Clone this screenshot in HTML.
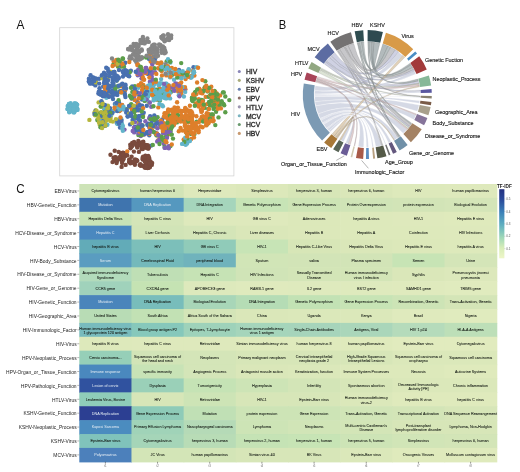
<!DOCTYPE html>
<html><head><meta charset="utf-8"><style>
html,body{margin:0;padding:0;background:#fff;}
body{width:520px;height:472px;overflow:hidden;position:relative;font-family:"Liberation Sans",sans-serif;}
svg{position:absolute;left:0;top:0;will-change:transform;}

.hm text{font-size:3.75px;text-anchor:middle;font-family:"Liberation Sans",sans-serif;stroke-width:0.06px;}
.hm text.yl{font-size:4.9px;text-anchor:end;fill:#1e1e1e;stroke:none;}
.hm text.xt{font-size:2.8px;fill:#666;}
.hm text.cbt{font-size:3px;text-anchor:start;fill:#555;}
.hm text.tfidf{font-size:4.7px;text-anchor:start;font-weight:bold;fill:#222;}
.lg{font-size:6.8px;fill:#262626;stroke:#262626;stroke-width:0.3px;font-family:"Liberation Sans",sans-serif;}
.cl{font-size:5.45px;fill:#1a1a1a;stroke:#1a1a1a;stroke-width:0.14px;font-family:"Liberation Sans",sans-serif;}
.pl{font-size:13.2px;fill:#111;font-family:"Liberation Sans",sans-serif;}
</style></head><body>
<svg width="520" height="472" viewBox="0 0 520 472">
<defs><filter id="bl" x="-5%" y="-5%" width="110%" height="110%"><feGaussianBlur stdDeviation="0.35"/></filter></defs>
<text class="pl" transform="translate(16.4,29.2) scale(0.9,1)">A</text>
<text class="pl" transform="translate(278.8,29.2) scale(0.85,1)">B</text>
<text class="pl" transform="translate(16.3,193.1) scale(0.88,1)">C</text>
<rect x="59.7" y="27.7" width="174.2" height="148.2" fill="none" stroke="#d4d4d4" stroke-width="0.8"/>
<g filter="url(#bl)"><circle cx="141.0" cy="67.3" r="2.2" fill="#5b9e4a"/><circle cx="170.1" cy="91.5" r="2.2" fill="#62b4ca"/><circle cx="140.8" cy="136.1" r="2.2" fill="#7f64b4"/><circle cx="173.2" cy="117.1" r="2.2" fill="#de7f2c"/><circle cx="102.8" cy="115.1" r="2.2" fill="#5b9e4a"/><circle cx="114.4" cy="87.4" r="2.2" fill="#62b4ca"/><circle cx="180.3" cy="73.7" r="2.2" fill="#62b4ca"/><circle cx="72.1" cy="106.2" r="2.2" fill="#62b4ca"/><circle cx="204.8" cy="88.4" r="2.2" fill="#5b9e4a"/><circle cx="99.2" cy="115.7" r="2.2" fill="#b6b63c"/><circle cx="131.0" cy="162.3" r="2.2" fill="#7a4b3d"/><circle cx="211.7" cy="105.3" r="2.2" fill="#5b9e4a"/><circle cx="160.2" cy="63.4" r="2.2" fill="#5b9e4a"/><circle cx="99.7" cy="119.4" r="2.2" fill="#b6b63c"/><circle cx="105.3" cy="79.5" r="2.2" fill="#4870b0"/><circle cx="105.6" cy="116.1" r="2.2" fill="#5b9e4a"/><circle cx="210.9" cy="103.0" r="2.2" fill="#5b9e4a"/><circle cx="193.2" cy="123.1" r="2.2" fill="#de7f2c"/><circle cx="213.8" cy="96.4" r="2.2" fill="#5b9e4a"/><circle cx="143.5" cy="39.6" r="2.2" fill="#868686"/><circle cx="95.3" cy="79.2" r="2.2" fill="#4870b0"/><circle cx="165.4" cy="90.3" r="2.2" fill="#62b4ca"/><circle cx="154.4" cy="125.6" r="2.2" fill="#de7f2c"/><circle cx="106.4" cy="77.8" r="2.2" fill="#4870b0"/><circle cx="125.1" cy="90.4" r="2.2" fill="#de7f2c"/><circle cx="162.4" cy="94.0" r="2.2" fill="#5b9e4a"/><circle cx="133.5" cy="110.7" r="2.2" fill="#de7f2c"/><circle cx="216.2" cy="102.5" r="2.2" fill="#5b9e4a"/><circle cx="120.9" cy="105.5" r="2.2" fill="#4870b0"/><circle cx="139.3" cy="143.8" r="2.2" fill="#7a4b3d"/><circle cx="166.4" cy="94.2" r="2.2" fill="#62b4ca"/><circle cx="141.8" cy="84.5" r="2.2" fill="#de7f2c"/><circle cx="163.4" cy="89.3" r="2.2" fill="#62b4ca"/><circle cx="162.9" cy="106.3" r="2.2" fill="#62b4ca"/><circle cx="190.8" cy="122.0" r="2.2" fill="#de7f2c"/><circle cx="142.9" cy="37.0" r="2.2" fill="#868686"/><circle cx="106.4" cy="108.6" r="2.2" fill="#b6b63c"/><circle cx="184.3" cy="143.8" r="2.2" fill="#5b9e4a"/><circle cx="207.3" cy="91.1" r="2.2" fill="#5b9e4a"/><circle cx="155.3" cy="96.1" r="2.2" fill="#62b4ca"/><circle cx="185.6" cy="79.1" r="2.2" fill="#de7f2c"/><circle cx="157.3" cy="63.0" r="2.2" fill="#de7f2c"/><circle cx="139.8" cy="51.2" r="2.2" fill="#868686"/><circle cx="137.2" cy="106.0" r="2.2" fill="#de7f2c"/><circle cx="170.7" cy="134.2" r="2.2" fill="#5b9e4a"/><circle cx="157.3" cy="121.5" r="2.2" fill="#4870b0"/><circle cx="166.2" cy="126.8" r="2.2" fill="#de7f2c"/><circle cx="187.9" cy="130.9" r="2.2" fill="#de7f2c"/><circle cx="181.5" cy="111.1" r="2.2" fill="#de7f2c"/><circle cx="215.1" cy="91.6" r="2.2" fill="#de7f2c"/><circle cx="105.7" cy="124.9" r="2.2" fill="#b6b63c"/><circle cx="129.2" cy="107.0" r="2.2" fill="#b6b63c"/><circle cx="74.9" cy="103.4" r="2.2" fill="#62b4ca"/><circle cx="146.3" cy="98.6" r="2.2" fill="#5b9e4a"/><circle cx="190.5" cy="76.3" r="2.2" fill="#62b4ca"/><circle cx="191.2" cy="138.9" r="2.2" fill="#de7f2c"/><circle cx="192.6" cy="97.7" r="2.2" fill="#5b9e4a"/><circle cx="161.1" cy="79.1" r="2.2" fill="#62b4ca"/><circle cx="138.7" cy="122.8" r="2.2" fill="#b6b63c"/><circle cx="121.4" cy="119.2" r="2.2" fill="#62b4ca"/><circle cx="166.6" cy="61.4" r="2.2" fill="#5b9e4a"/><circle cx="114.4" cy="72.0" r="2.2" fill="#4870b0"/><circle cx="120.9" cy="153.5" r="2.2" fill="#7a4b3d"/><circle cx="140.1" cy="120.8" r="2.2" fill="#4870b0"/><circle cx="191.9" cy="125.8" r="2.2" fill="#de7f2c"/><circle cx="126.1" cy="109.2" r="2.2" fill="#5b9e4a"/><circle cx="169.0" cy="69.2" r="2.2" fill="#de7f2c"/><circle cx="149.3" cy="127.2" r="2.2" fill="#7f64b4"/><circle cx="98.7" cy="121.6" r="2.2" fill="#b6b63c"/><circle cx="186.5" cy="132.8" r="2.2" fill="#de7f2c"/><circle cx="157.6" cy="117.2" r="2.2" fill="#5b9e4a"/><circle cx="151.3" cy="129.8" r="2.2" fill="#7f64b4"/><circle cx="118.8" cy="77.8" r="2.2" fill="#4870b0"/><circle cx="163.2" cy="131.4" r="2.2" fill="#5b9e4a"/><circle cx="137.4" cy="55.9" r="2.2" fill="#868686"/><circle cx="160.3" cy="69.8" r="2.2" fill="#868686"/><circle cx="134.4" cy="46.1" r="2.2" fill="#868686"/><circle cx="167.3" cy="129.8" r="2.2" fill="#de7f2c"/><circle cx="161.7" cy="70.5" r="2.2" fill="#868686"/><circle cx="139.3" cy="109.4" r="2.2" fill="#4870b0"/><circle cx="113.7" cy="72.3" r="2.2" fill="#4870b0"/><circle cx="148.2" cy="125.1" r="2.2" fill="#4870b0"/><circle cx="147.8" cy="92.2" r="2.2" fill="#de7f2c"/><circle cx="189.2" cy="140.7" r="2.2" fill="#62b4ca"/><circle cx="154.5" cy="126.5" r="2.2" fill="#5b9e4a"/><circle cx="148.8" cy="161.2" r="2.2" fill="#7a4b3d"/><circle cx="155.1" cy="89.4" r="2.2" fill="#62b4ca"/><circle cx="143.0" cy="115.9" r="2.2" fill="#de7f2c"/><circle cx="146.7" cy="73.1" r="2.2" fill="#7f64b4"/><circle cx="178.2" cy="118.7" r="2.2" fill="#de7f2c"/><circle cx="185.3" cy="109.1" r="2.2" fill="#de7f2c"/><circle cx="142.1" cy="57.8" r="2.2" fill="#5b9e4a"/><circle cx="191.7" cy="117.5" r="2.2" fill="#de7f2c"/><circle cx="113.9" cy="86.2" r="2.2" fill="#4870b0"/><circle cx="172.2" cy="122.2" r="2.2" fill="#de7f2c"/><circle cx="160.5" cy="45.2" r="2.2" fill="#868686"/><circle cx="148.6" cy="50.0" r="2.2" fill="#868686"/><circle cx="170.5" cy="146.0" r="2.2" fill="#5b9e4a"/><circle cx="158.3" cy="107.4" r="2.2" fill="#de7f2c"/><circle cx="105.5" cy="92.4" r="2.2" fill="#4870b0"/><circle cx="101.7" cy="120.6" r="2.2" fill="#b6b63c"/><circle cx="168.5" cy="39.7" r="2.2" fill="#868686"/><circle cx="110.1" cy="86.0" r="2.2" fill="#4870b0"/><circle cx="148.4" cy="167.9" r="2.2" fill="#7a4b3d"/><circle cx="131.7" cy="58.2" r="2.2" fill="#868686"/><circle cx="121.9" cy="123.4" r="2.2" fill="#62b4ca"/><circle cx="152.2" cy="45.8" r="2.2" fill="#868686"/><circle cx="172.3" cy="74.5" r="2.2" fill="#62b4ca"/><circle cx="152.0" cy="130.1" r="2.2" fill="#de7f2c"/><circle cx="143.7" cy="112.8" r="2.2" fill="#4870b0"/><circle cx="179.8" cy="77.5" r="2.2" fill="#62b4ca"/><circle cx="158.0" cy="55.8" r="2.2" fill="#868686"/><circle cx="120.5" cy="110.0" r="2.2" fill="#de7f2c"/><circle cx="160.8" cy="96.8" r="2.2" fill="#62b4ca"/><circle cx="142.7" cy="159.5" r="2.2" fill="#7a4b3d"/><circle cx="201.7" cy="117.0" r="2.2" fill="#de7f2c"/><circle cx="151.9" cy="62.0" r="2.2" fill="#868686"/><circle cx="169.1" cy="125.2" r="2.2" fill="#7f64b4"/><circle cx="171.6" cy="75.2" r="2.2" fill="#5b9e4a"/><circle cx="97.3" cy="120.0" r="2.2" fill="#5b9e4a"/><circle cx="189.9" cy="129.4" r="2.2" fill="#de7f2c"/><circle cx="132.2" cy="106.5" r="2.2" fill="#de7f2c"/><circle cx="139.7" cy="165.1" r="2.2" fill="#7a4b3d"/><circle cx="187.3" cy="116.5" r="2.2" fill="#de7f2c"/><circle cx="140.3" cy="73.6" r="2.2" fill="#4870b0"/><circle cx="68.8" cy="106.3" r="2.2" fill="#62b4ca"/><circle cx="72.7" cy="108.7" r="2.2" fill="#62b4ca"/><circle cx="110.9" cy="110.8" r="2.2" fill="#62b4ca"/><circle cx="132.3" cy="91.9" r="2.2" fill="#5b9e4a"/><circle cx="113.7" cy="61.4" r="2.2" fill="#de7f2c"/><circle cx="137.8" cy="75.3" r="2.2" fill="#7f64b4"/><circle cx="153.4" cy="97.0" r="2.2" fill="#62b4ca"/><circle cx="122.0" cy="105.2" r="2.2" fill="#4870b0"/><circle cx="147.8" cy="93.5" r="2.2" fill="#4870b0"/><circle cx="162.2" cy="119.5" r="2.2" fill="#4870b0"/><circle cx="144.1" cy="98.0" r="2.2" fill="#de7f2c"/><circle cx="153.0" cy="86.2" r="2.2" fill="#62b4ca"/><circle cx="137.4" cy="73.7" r="2.2" fill="#de7f2c"/><circle cx="114.8" cy="110.5" r="2.2" fill="#4870b0"/><circle cx="161.6" cy="63.6" r="2.2" fill="#62b4ca"/><circle cx="130.1" cy="124.4" r="2.2" fill="#4870b0"/><circle cx="198.8" cy="99.3" r="2.2" fill="#de7f2c"/><circle cx="145.9" cy="147.7" r="2.2" fill="#7a4b3d"/><circle cx="154.5" cy="116.5" r="2.2" fill="#7f64b4"/><circle cx="136.9" cy="101.5" r="2.2" fill="#4870b0"/><circle cx="149.9" cy="92.4" r="2.2" fill="#5b9e4a"/><circle cx="138.4" cy="135.0" r="2.2" fill="#5b9e4a"/><circle cx="114.8" cy="79.4" r="2.2" fill="#4870b0"/><circle cx="159.6" cy="100.1" r="2.2" fill="#62b4ca"/><circle cx="189.9" cy="141.0" r="2.2" fill="#62b4ca"/><circle cx="195.1" cy="94.8" r="2.2" fill="#5b9e4a"/><circle cx="150.1" cy="116.2" r="2.2" fill="#4870b0"/><circle cx="165.7" cy="64.1" r="2.2" fill="#868686"/><circle cx="147.3" cy="124.8" r="2.2" fill="#4870b0"/><circle cx="205.3" cy="81.3" r="2.2" fill="#5b9e4a"/><circle cx="151.2" cy="106.8" r="2.2" fill="#7f64b4"/><circle cx="138.4" cy="46.5" r="2.2" fill="#868686"/><circle cx="180.9" cy="111.4" r="2.2" fill="#de7f2c"/><circle cx="142.7" cy="90.7" r="2.2" fill="#5b9e4a"/><circle cx="150.7" cy="61.5" r="2.2" fill="#de7f2c"/><circle cx="205.7" cy="96.9" r="2.2" fill="#de7f2c"/><circle cx="186.2" cy="109.4" r="2.2" fill="#de7f2c"/><circle cx="106.2" cy="81.8" r="2.2" fill="#4870b0"/><circle cx="119.3" cy="91.6" r="2.2" fill="#5b9e4a"/><circle cx="204.6" cy="88.0" r="2.2" fill="#de7f2c"/><circle cx="180.5" cy="76.6" r="2.2" fill="#de7f2c"/><circle cx="132.2" cy="143.0" r="2.2" fill="#7a4b3d"/><circle cx="177.9" cy="107.6" r="2.2" fill="#de7f2c"/><circle cx="69.5" cy="104.1" r="2.2" fill="#62b4ca"/><circle cx="132.9" cy="54.6" r="2.2" fill="#868686"/><circle cx="133.9" cy="95.5" r="2.2" fill="#de7f2c"/><circle cx="150.1" cy="162.9" r="2.2" fill="#7a4b3d"/><circle cx="177.4" cy="87.5" r="2.2" fill="#de7f2c"/><circle cx="69.2" cy="112.2" r="2.2" fill="#62b4ca"/><circle cx="167.6" cy="118.4" r="2.2" fill="#5b9e4a"/><circle cx="203.5" cy="117.2" r="2.2" fill="#5b9e4a"/><circle cx="109.3" cy="109.7" r="2.2" fill="#4870b0"/><circle cx="137.2" cy="145.7" r="2.2" fill="#7a4b3d"/><circle cx="191.4" cy="115.7" r="2.2" fill="#de7f2c"/><circle cx="139.3" cy="95.5" r="2.2" fill="#4870b0"/><circle cx="152.0" cy="90.2" r="2.2" fill="#de7f2c"/><circle cx="182.2" cy="117.7" r="2.2" fill="#de7f2c"/><circle cx="133.6" cy="43.9" r="2.2" fill="#868686"/><circle cx="158.0" cy="140.4" r="2.2" fill="#de7f2c"/><circle cx="185.9" cy="121.5" r="2.2" fill="#5b9e4a"/><circle cx="144.9" cy="98.7" r="2.2" fill="#de7f2c"/><circle cx="161.9" cy="47.7" r="2.2" fill="#868686"/><circle cx="96.2" cy="78.7" r="2.2" fill="#4870b0"/><circle cx="193.2" cy="123.9" r="2.2" fill="#de7f2c"/><circle cx="161.9" cy="38.3" r="2.2" fill="#868686"/><circle cx="149.7" cy="72.8" r="2.2" fill="#5b9e4a"/><circle cx="67.5" cy="109.1" r="2.2" fill="#62b4ca"/><circle cx="122.2" cy="106.2" r="2.2" fill="#62b4ca"/><circle cx="185.4" cy="89.3" r="2.2" fill="#de7f2c"/><circle cx="148.1" cy="96.6" r="2.2" fill="#62b4ca"/><circle cx="146.3" cy="67.9" r="2.2" fill="#7f64b4"/><circle cx="138.5" cy="59.3" r="2.2" fill="#868686"/><circle cx="107.2" cy="96.9" r="2.2" fill="#4870b0"/><circle cx="116.8" cy="93.9" r="2.2" fill="#4870b0"/><circle cx="116.6" cy="163.1" r="2.2" fill="#7a4b3d"/><circle cx="178.8" cy="131.3" r="2.2" fill="#de7f2c"/><circle cx="106.6" cy="83.8" r="2.2" fill="#4870b0"/><circle cx="150.9" cy="48.4" r="2.2" fill="#868686"/><circle cx="175.4" cy="90.6" r="2.2" fill="#62b4ca"/><circle cx="110.6" cy="118.1" r="2.2" fill="#b6b63c"/><circle cx="106.4" cy="112.0" r="2.2" fill="#b6b63c"/><circle cx="134.1" cy="51.8" r="2.2" fill="#868686"/><circle cx="176.0" cy="110.9" r="2.2" fill="#de7f2c"/><circle cx="196.7" cy="121.8" r="2.2" fill="#5b9e4a"/><circle cx="153.6" cy="56.3" r="2.2" fill="#868686"/><circle cx="206.8" cy="124.7" r="2.2" fill="#5b9e4a"/><circle cx="188.8" cy="127.3" r="2.2" fill="#de7f2c"/><circle cx="129.8" cy="49.4" r="2.2" fill="#868686"/><circle cx="165.0" cy="95.4" r="2.2" fill="#62b4ca"/><circle cx="162.9" cy="46.5" r="2.2" fill="#868686"/><circle cx="143.3" cy="141.8" r="2.2" fill="#7a4b3d"/><circle cx="147.1" cy="95.0" r="2.2" fill="#62b4ca"/><circle cx="149.9" cy="91.8" r="2.2" fill="#5b9e4a"/><circle cx="161.3" cy="36.9" r="2.2" fill="#868686"/><circle cx="98.5" cy="118.8" r="2.2" fill="#b6b63c"/><circle cx="159.3" cy="98.1" r="2.2" fill="#62b4ca"/><circle cx="127.7" cy="116.2" r="2.2" fill="#4870b0"/><circle cx="134.9" cy="164.8" r="2.2" fill="#7a4b3d"/><circle cx="158.6" cy="135.2" r="2.2" fill="#4870b0"/><circle cx="137.2" cy="110.2" r="2.2" fill="#de7f2c"/><circle cx="131.0" cy="106.7" r="2.2" fill="#5b9e4a"/><circle cx="193.5" cy="67.3" r="2.2" fill="#4870b0"/><circle cx="125.1" cy="154.4" r="2.2" fill="#7a4b3d"/><circle cx="135.4" cy="55.5" r="2.2" fill="#868686"/><circle cx="117.2" cy="120.8" r="2.2" fill="#62b4ca"/><circle cx="168.8" cy="92.6" r="2.2" fill="#62b4ca"/><circle cx="129.9" cy="95.8" r="2.2" fill="#5b9e4a"/><circle cx="160.8" cy="137.5" r="2.2" fill="#de7f2c"/><circle cx="88.8" cy="81.4" r="2.2" fill="#4870b0"/><circle cx="69.9" cy="111.4" r="2.2" fill="#62b4ca"/><circle cx="108.5" cy="116.8" r="2.2" fill="#b6b63c"/><circle cx="162.5" cy="36.7" r="2.2" fill="#868686"/><circle cx="166.8" cy="125.8" r="2.2" fill="#de7f2c"/><circle cx="95.7" cy="114.3" r="2.2" fill="#b6b63c"/><circle cx="154.1" cy="84.4" r="2.2" fill="#62b4ca"/><circle cx="158.3" cy="96.2" r="2.2" fill="#62b4ca"/><circle cx="146.3" cy="87.8" r="2.2" fill="#62b4ca"/><circle cx="129.8" cy="58.9" r="2.2" fill="#868686"/><circle cx="170.2" cy="118.7" r="2.2" fill="#de7f2c"/><circle cx="197.9" cy="103.8" r="2.2" fill="#5b9e4a"/><circle cx="158.1" cy="68.2" r="2.2" fill="#de7f2c"/><circle cx="197.2" cy="130.0" r="2.2" fill="#de7f2c"/><circle cx="185.8" cy="109.1" r="2.2" fill="#de7f2c"/><circle cx="161.5" cy="49.2" r="2.2" fill="#868686"/><circle cx="102.2" cy="75.2" r="2.2" fill="#4870b0"/><circle cx="107.6" cy="107.0" r="2.2" fill="#b6b63c"/><circle cx="147.2" cy="93.3" r="2.2" fill="#de7f2c"/><circle cx="161.6" cy="70.9" r="2.2" fill="#de7f2c"/><circle cx="218.6" cy="102.1" r="2.2" fill="#de7f2c"/><circle cx="157.4" cy="99.9" r="2.2" fill="#de7f2c"/><circle cx="216.0" cy="107.1" r="2.2" fill="#5b9e4a"/><circle cx="185.3" cy="117.7" r="2.2" fill="#de7f2c"/><circle cx="145.7" cy="68.0" r="2.2" fill="#7f64b4"/><circle cx="111.1" cy="115.4" r="2.2" fill="#b6b63c"/><circle cx="163.9" cy="143.9" r="2.2" fill="#7f64b4"/><circle cx="223.5" cy="103.9" r="2.2" fill="#5b9e4a"/><circle cx="105.4" cy="76.7" r="2.2" fill="#4870b0"/><circle cx="188.8" cy="110.7" r="2.2" fill="#de7f2c"/><circle cx="112.2" cy="96.2" r="2.2" fill="#4870b0"/><circle cx="165.1" cy="94.5" r="2.2" fill="#62b4ca"/><circle cx="96.1" cy="82.3" r="2.2" fill="#4870b0"/><circle cx="174.7" cy="118.1" r="2.2" fill="#de7f2c"/><circle cx="168.0" cy="119.7" r="2.2" fill="#de7f2c"/><circle cx="141.2" cy="68.5" r="2.2" fill="#de7f2c"/><circle cx="132.7" cy="110.3" r="2.2" fill="#4870b0"/><circle cx="155.9" cy="120.2" r="2.2" fill="#5b9e4a"/><circle cx="168.5" cy="146.1" r="2.2" fill="#7f64b4"/><circle cx="141.6" cy="49.5" r="2.2" fill="#868686"/><circle cx="164.4" cy="53.3" r="2.2" fill="#868686"/><circle cx="107.9" cy="79.5" r="2.2" fill="#b6b63c"/><circle cx="170.2" cy="127.5" r="2.2" fill="#de7f2c"/><circle cx="126.2" cy="112.6" r="2.2" fill="#4870b0"/><circle cx="129.2" cy="72.0" r="2.2" fill="#4870b0"/><circle cx="158.7" cy="85.2" r="2.2" fill="#62b4ca"/><circle cx="99.7" cy="124.7" r="2.2" fill="#b6b63c"/><circle cx="164.3" cy="48.0" r="2.2" fill="#868686"/><circle cx="119.0" cy="61.6" r="2.2" fill="#5b9e4a"/><circle cx="149.2" cy="135.3" r="2.2" fill="#4870b0"/><circle cx="152.1" cy="52.5" r="2.2" fill="#868686"/><circle cx="134.3" cy="112.3" r="2.2" fill="#5b9e4a"/><circle cx="155.1" cy="51.9" r="2.2" fill="#868686"/><circle cx="157.0" cy="133.5" r="2.2" fill="#7f64b4"/><circle cx="156.8" cy="48.1" r="2.2" fill="#868686"/><circle cx="168.7" cy="115.2" r="2.2" fill="#de7f2c"/><circle cx="159.2" cy="123.9" r="2.2" fill="#4870b0"/><circle cx="69.5" cy="104.2" r="2.2" fill="#62b4ca"/><circle cx="106.2" cy="67.8" r="2.2" fill="#4870b0"/><circle cx="183.0" cy="75.2" r="2.2" fill="#de7f2c"/><circle cx="185.8" cy="142.5" r="2.2" fill="#62b4ca"/><circle cx="158.5" cy="135.3" r="2.2" fill="#5b9e4a"/><circle cx="110.6" cy="86.8" r="2.2" fill="#4870b0"/><circle cx="137.0" cy="57.6" r="2.2" fill="#868686"/><circle cx="168.4" cy="123.2" r="2.2" fill="#de7f2c"/><circle cx="141.8" cy="57.4" r="2.2" fill="#868686"/><circle cx="183.7" cy="139.4" r="2.2" fill="#de7f2c"/><circle cx="138.9" cy="51.9" r="2.2" fill="#868686"/><circle cx="179.0" cy="69.9" r="2.2" fill="#4870b0"/><circle cx="194.1" cy="95.1" r="2.2" fill="#de7f2c"/><circle cx="112.6" cy="90.5" r="2.2" fill="#4870b0"/><circle cx="104.0" cy="109.0" r="2.2" fill="#62b4ca"/><circle cx="183.3" cy="110.9" r="2.2" fill="#de7f2c"/><circle cx="139.1" cy="116.1" r="2.2" fill="#4870b0"/><circle cx="188.2" cy="115.5" r="2.2" fill="#de7f2c"/><circle cx="166.6" cy="88.5" r="2.2" fill="#62b4ca"/><circle cx="217.5" cy="98.0" r="2.2" fill="#5b9e4a"/><circle cx="149.1" cy="102.6" r="2.2" fill="#b6b63c"/><circle cx="149.7" cy="166.8" r="2.2" fill="#7a4b3d"/><circle cx="180.6" cy="128.0" r="2.2" fill="#de7f2c"/><circle cx="149.3" cy="158.7" r="2.2" fill="#7a4b3d"/><circle cx="161.1" cy="66.8" r="2.2" fill="#62b4ca"/><circle cx="132.2" cy="48.5" r="2.2" fill="#868686"/><circle cx="160.8" cy="88.9" r="2.2" fill="#62b4ca"/><circle cx="195.3" cy="91.9" r="2.2" fill="#5b9e4a"/><circle cx="141.5" cy="149.0" r="2.2" fill="#7a4b3d"/><circle cx="170.1" cy="121.5" r="2.2" fill="#de7f2c"/><circle cx="159.2" cy="93.9" r="2.2" fill="#62b4ca"/><circle cx="118.5" cy="119.8" r="2.2" fill="#62b4ca"/><circle cx="191.9" cy="97.7" r="2.2" fill="#5b9e4a"/><circle cx="208.1" cy="88.6" r="2.2" fill="#5b9e4a"/><circle cx="167.1" cy="95.9" r="2.2" fill="#62b4ca"/><circle cx="125.2" cy="154.9" r="2.2" fill="#7a4b3d"/><circle cx="155.1" cy="72.1" r="2.2" fill="#7f64b4"/><circle cx="166.4" cy="142.2" r="2.2" fill="#de7f2c"/><circle cx="104.9" cy="125.9" r="2.2" fill="#b6b63c"/><circle cx="136.6" cy="117.0" r="2.2" fill="#b6b63c"/><circle cx="156.4" cy="99.2" r="2.2" fill="#62b4ca"/><circle cx="113.1" cy="64.9" r="2.2" fill="#5b9e4a"/><circle cx="195.9" cy="130.1" r="2.2" fill="#de7f2c"/><circle cx="165.6" cy="52.6" r="2.2" fill="#868686"/><circle cx="104.9" cy="76.1" r="2.2" fill="#4870b0"/><circle cx="117.9" cy="66.6" r="2.2" fill="#5b9e4a"/><circle cx="135.1" cy="122.1" r="2.2" fill="#7f64b4"/><circle cx="193.1" cy="70.8" r="2.2" fill="#de7f2c"/><circle cx="169.3" cy="87.9" r="2.2" fill="#62b4ca"/><circle cx="132.2" cy="162.7" r="2.2" fill="#7a4b3d"/><circle cx="129.2" cy="76.3" r="2.2" fill="#4870b0"/><circle cx="92.8" cy="77.4" r="2.2" fill="#4870b0"/><circle cx="172.1" cy="115.7" r="2.2" fill="#de7f2c"/><circle cx="116.7" cy="122.7" r="2.2" fill="#4870b0"/><circle cx="175.8" cy="73.5" r="2.2" fill="#4870b0"/><circle cx="197.5" cy="128.4" r="2.2" fill="#5b9e4a"/><circle cx="179.5" cy="75.4" r="2.2" fill="#62b4ca"/><circle cx="195.6" cy="127.6" r="2.2" fill="#5b9e4a"/><circle cx="132.0" cy="146.2" r="2.2" fill="#7a4b3d"/><circle cx="130.9" cy="70.7" r="2.2" fill="#4870b0"/><circle cx="170.9" cy="91.9" r="2.2" fill="#5b9e4a"/><circle cx="107.1" cy="110.4" r="2.2" fill="#b6b63c"/><circle cx="202.4" cy="93.4" r="2.2" fill="#de7f2c"/><circle cx="130.8" cy="146.2" r="2.2" fill="#7a4b3d"/><circle cx="143.0" cy="40.5" r="2.2" fill="#868686"/><circle cx="189.8" cy="121.0" r="2.2" fill="#de7f2c"/><circle cx="157.4" cy="135.4" r="2.2" fill="#de7f2c"/><circle cx="110.6" cy="86.3" r="2.2" fill="#4870b0"/><circle cx="185.7" cy="144.8" r="2.2" fill="#62b4ca"/><circle cx="177.4" cy="111.2" r="2.2" fill="#de7f2c"/><circle cx="93.6" cy="77.6" r="2.2" fill="#4870b0"/><circle cx="103.3" cy="119.8" r="2.2" fill="#b6b63c"/><circle cx="168.6" cy="134.2" r="2.2" fill="#de7f2c"/><circle cx="216.6" cy="105.1" r="2.2" fill="#de7f2c"/><circle cx="173.0" cy="88.0" r="2.2" fill="#de7f2c"/><circle cx="148.2" cy="156.0" r="2.2" fill="#7a4b3d"/><circle cx="110.0" cy="108.1" r="2.2" fill="#4870b0"/><circle cx="160.2" cy="125.5" r="2.2" fill="#7f64b4"/><circle cx="169.2" cy="86.1" r="2.2" fill="#62b4ca"/><circle cx="161.6" cy="97.1" r="2.2" fill="#62b4ca"/><circle cx="167.5" cy="88.0" r="2.2" fill="#de7f2c"/><circle cx="127.1" cy="112.3" r="2.2" fill="#4870b0"/><circle cx="121.5" cy="120.7" r="2.2" fill="#4870b0"/><circle cx="216.7" cy="93.4" r="2.2" fill="#de7f2c"/><circle cx="184.9" cy="125.4" r="2.2" fill="#de7f2c"/><circle cx="107.4" cy="124.8" r="2.2" fill="#62b4ca"/><circle cx="136.4" cy="117.1" r="2.2" fill="#4870b0"/><circle cx="145.2" cy="88.2" r="2.2" fill="#de7f2c"/><circle cx="192.3" cy="75.8" r="2.2" fill="#de7f2c"/><circle cx="109.2" cy="112.4" r="2.2" fill="#b6b63c"/><circle cx="119.9" cy="106.2" r="2.2" fill="#4870b0"/><circle cx="99.5" cy="88.3" r="2.2" fill="#4870b0"/><circle cx="124.1" cy="73.5" r="2.2" fill="#4870b0"/><circle cx="149.8" cy="167.3" r="2.2" fill="#7a4b3d"/><circle cx="143.7" cy="134.5" r="2.2" fill="#de7f2c"/><circle cx="125.3" cy="85.8" r="2.2" fill="#4870b0"/><circle cx="143.8" cy="146.6" r="2.2" fill="#7a4b3d"/><circle cx="208.8" cy="116.9" r="2.2" fill="#de7f2c"/><circle cx="136.3" cy="118.0" r="2.2" fill="#4870b0"/><circle cx="126.8" cy="109.8" r="2.2" fill="#4870b0"/><circle cx="157.3" cy="122.7" r="2.2" fill="#7f64b4"/><circle cx="199.2" cy="88.7" r="2.2" fill="#de7f2c"/><circle cx="153.1" cy="49.6" r="2.2" fill="#868686"/><circle cx="152.2" cy="82.7" r="2.2" fill="#62b4ca"/><circle cx="124.9" cy="94.7" r="2.2" fill="#4870b0"/><circle cx="75.9" cy="109.6" r="2.2" fill="#62b4ca"/><circle cx="178.2" cy="91.5" r="2.2" fill="#de7f2c"/><circle cx="217.9" cy="98.9" r="2.2" fill="#5b9e4a"/><circle cx="154.5" cy="96.5" r="2.2" fill="#62b4ca"/><circle cx="215.4" cy="99.9" r="2.2" fill="#5b9e4a"/><circle cx="164.2" cy="130.2" r="2.2" fill="#de7f2c"/><circle cx="170.1" cy="98.4" r="2.2" fill="#62b4ca"/><circle cx="156.9" cy="54.0" r="2.2" fill="#868686"/><circle cx="141.8" cy="147.1" r="2.2" fill="#7a4b3d"/><circle cx="105.2" cy="92.0" r="2.2" fill="#4870b0"/><circle cx="116.4" cy="62.4" r="2.2" fill="#de7f2c"/><circle cx="155.1" cy="49.4" r="2.2" fill="#868686"/><circle cx="138.7" cy="110.3" r="2.2" fill="#4870b0"/><circle cx="67.7" cy="105.9" r="2.2" fill="#62b4ca"/><circle cx="129.8" cy="72.2" r="2.2" fill="#5b9e4a"/><circle cx="102.0" cy="102.9" r="2.2" fill="#4870b0"/><circle cx="198.2" cy="102.5" r="2.2" fill="#de7f2c"/><circle cx="132.3" cy="87.4" r="2.2" fill="#7f64b4"/><circle cx="137.3" cy="144.8" r="2.2" fill="#7a4b3d"/><circle cx="144.4" cy="98.8" r="2.2" fill="#de7f2c"/><circle cx="149.9" cy="54.5" r="2.2" fill="#de7f2c"/><circle cx="138.4" cy="103.3" r="2.2" fill="#4870b0"/><circle cx="188.7" cy="119.9" r="2.2" fill="#de7f2c"/><circle cx="191.0" cy="134.0" r="2.2" fill="#5b9e4a"/><circle cx="107.5" cy="96.7" r="2.2" fill="#4870b0"/><circle cx="181.3" cy="94.2" r="2.2" fill="#de7f2c"/><circle cx="115.7" cy="157.1" r="2.2" fill="#7a4b3d"/><circle cx="170.3" cy="36.8" r="2.2" fill="#868686"/><circle cx="121.5" cy="86.3" r="2.2" fill="#de7f2c"/><circle cx="196.5" cy="67.2" r="2.2" fill="#62b4ca"/><circle cx="133.9" cy="151.6" r="2.2" fill="#7a4b3d"/><circle cx="121.2" cy="84.6" r="2.2" fill="#4870b0"/><circle cx="146.3" cy="166.0" r="2.2" fill="#7a4b3d"/><circle cx="121.0" cy="106.8" r="2.2" fill="#de7f2c"/><circle cx="152.5" cy="73.1" r="2.2" fill="#de7f2c"/><circle cx="213.4" cy="96.4" r="2.2" fill="#5b9e4a"/><circle cx="135.2" cy="54.5" r="2.2" fill="#868686"/><circle cx="212.2" cy="118.4" r="2.2" fill="#de7f2c"/><circle cx="90.6" cy="75.2" r="2.2" fill="#4870b0"/><circle cx="224.2" cy="105.3" r="2.2" fill="#5b9e4a"/><circle cx="117.8" cy="63.0" r="2.2" fill="#5b9e4a"/><circle cx="147.9" cy="131.9" r="2.2" fill="#4870b0"/><circle cx="164.5" cy="147.0" r="2.2" fill="#5b9e4a"/><circle cx="170.4" cy="62.5" r="2.2" fill="#62b4ca"/><circle cx="110.1" cy="71.8" r="2.2" fill="#b6b63c"/><circle cx="204.3" cy="120.1" r="2.2" fill="#de7f2c"/><circle cx="155.1" cy="132.7" r="2.2" fill="#4870b0"/><circle cx="131.0" cy="115.6" r="2.2" fill="#4870b0"/><circle cx="170.2" cy="61.2" r="2.2" fill="#5b9e4a"/><circle cx="118.7" cy="151.9" r="2.2" fill="#7a4b3d"/><circle cx="206.9" cy="104.1" r="2.2" fill="#de7f2c"/><circle cx="94.1" cy="80.0" r="2.2" fill="#4870b0"/><circle cx="136.8" cy="49.4" r="2.2" fill="#868686"/><circle cx="76.0" cy="103.9" r="2.2" fill="#62b4ca"/><circle cx="138.7" cy="44.8" r="2.2" fill="#868686"/><circle cx="138.3" cy="141.0" r="2.2" fill="#7a4b3d"/><circle cx="91.1" cy="83.4" r="2.2" fill="#4870b0"/><circle cx="142.1" cy="105.7" r="2.2" fill="#4870b0"/><circle cx="200.1" cy="100.9" r="2.2" fill="#5b9e4a"/><circle cx="157.7" cy="99.2" r="2.2" fill="#62b4ca"/><circle cx="155.6" cy="57.6" r="2.2" fill="#868686"/><circle cx="115.0" cy="157.4" r="2.2" fill="#7a4b3d"/><circle cx="108.8" cy="94.8" r="2.2" fill="#62b4ca"/><circle cx="123.3" cy="159.5" r="2.2" fill="#7a4b3d"/><circle cx="95.7" cy="110.1" r="2.2" fill="#b6b63c"/><circle cx="101.6" cy="106.6" r="2.2" fill="#b6b63c"/><circle cx="181.7" cy="91.3" r="2.2" fill="#de7f2c"/><circle cx="156.7" cy="52.4" r="2.2" fill="#868686"/><circle cx="147.1" cy="72.3" r="2.2" fill="#5b9e4a"/><circle cx="99.8" cy="113.4" r="2.2" fill="#b6b63c"/><circle cx="167.6" cy="112.4" r="2.2" fill="#de7f2c"/><circle cx="116.5" cy="77.1" r="2.2" fill="#4870b0"/><circle cx="202.8" cy="104.4" r="2.2" fill="#de7f2c"/><circle cx="153.7" cy="94.0" r="2.2" fill="#5b9e4a"/><circle cx="141.6" cy="128.9" r="2.2" fill="#de7f2c"/><circle cx="164.9" cy="51.9" r="2.2" fill="#868686"/><circle cx="93.7" cy="78.8" r="2.2" fill="#4870b0"/><circle cx="134.9" cy="54.3" r="2.2" fill="#868686"/><circle cx="147.4" cy="100.2" r="2.2" fill="#62b4ca"/><circle cx="189.5" cy="120.6" r="2.2" fill="#de7f2c"/><circle cx="155.5" cy="124.2" r="2.2" fill="#4870b0"/><circle cx="202.0" cy="111.0" r="2.2" fill="#de7f2c"/><circle cx="216.1" cy="111.8" r="2.2" fill="#5b9e4a"/><circle cx="100.7" cy="121.8" r="2.2" fill="#b6b63c"/><circle cx="117.7" cy="102.8" r="2.2" fill="#4870b0"/><circle cx="114.1" cy="72.1" r="2.2" fill="#4870b0"/><circle cx="208.6" cy="114.0" r="2.2" fill="#de7f2c"/><circle cx="161.6" cy="51.7" r="2.2" fill="#868686"/><circle cx="176.6" cy="73.9" r="2.2" fill="#de7f2c"/><circle cx="146.5" cy="145.6" r="2.2" fill="#7a4b3d"/><circle cx="141.5" cy="74.6" r="2.2" fill="#7f64b4"/><circle cx="104.3" cy="82.3" r="2.2" fill="#4870b0"/><circle cx="165.4" cy="68.1" r="2.2" fill="#4870b0"/><circle cx="156.4" cy="135.3" r="2.2" fill="#5b9e4a"/><circle cx="99.1" cy="78.8" r="2.2" fill="#4870b0"/><circle cx="189.9" cy="105.7" r="2.2" fill="#de7f2c"/><circle cx="213.0" cy="102.4" r="2.2" fill="#de7f2c"/><circle cx="173.6" cy="113.3" r="2.2" fill="#de7f2c"/><circle cx="160.0" cy="83.3" r="2.2" fill="#62b4ca"/><circle cx="120.0" cy="127.6" r="2.2" fill="#4870b0"/><circle cx="103.0" cy="78.1" r="2.2" fill="#4870b0"/><circle cx="191.8" cy="121.3" r="2.2" fill="#de7f2c"/><circle cx="177.7" cy="83.9" r="2.2" fill="#de7f2c"/><circle cx="199.9" cy="89.9" r="2.2" fill="#de7f2c"/><circle cx="193.6" cy="71.1" r="2.2" fill="#62b4ca"/><circle cx="175.3" cy="117.7" r="2.2" fill="#de7f2c"/><circle cx="151.0" cy="93.5" r="2.2" fill="#62b4ca"/><circle cx="185.7" cy="114.9" r="2.2" fill="#de7f2c"/><circle cx="169.2" cy="118.7" r="2.2" fill="#de7f2c"/><circle cx="134.2" cy="132.4" r="2.2" fill="#7f64b4"/><circle cx="188.6" cy="122.0" r="2.2" fill="#de7f2c"/><circle cx="202.4" cy="80.1" r="2.2" fill="#de7f2c"/><circle cx="174.5" cy="107.5" r="2.2" fill="#de7f2c"/><circle cx="168.6" cy="85.3" r="2.2" fill="#62b4ca"/><circle cx="122.8" cy="64.2" r="2.2" fill="#4870b0"/><circle cx="126.4" cy="74.7" r="2.2" fill="#4870b0"/><circle cx="165.7" cy="98.3" r="2.2" fill="#62b4ca"/><circle cx="72.9" cy="108.6" r="2.2" fill="#62b4ca"/><circle cx="105.3" cy="88.3" r="2.2" fill="#4870b0"/><circle cx="212.9" cy="121.3" r="2.2" fill="#de7f2c"/><circle cx="188.3" cy="126.5" r="2.2" fill="#de7f2c"/><circle cx="215.6" cy="94.5" r="2.2" fill="#5b9e4a"/><circle cx="134.9" cy="86.3" r="2.2" fill="#5b9e4a"/><circle cx="166.3" cy="75.4" r="2.2" fill="#de7f2c"/><circle cx="162.6" cy="97.2" r="2.2" fill="#62b4ca"/><circle cx="211.3" cy="86.7" r="2.2" fill="#de7f2c"/><circle cx="191.6" cy="117.9" r="2.2" fill="#de7f2c"/><circle cx="151.8" cy="164.9" r="2.2" fill="#7a4b3d"/><circle cx="113.4" cy="110.9" r="2.2" fill="#62b4ca"/><circle cx="164.8" cy="67.2" r="2.2" fill="#5b9e4a"/><circle cx="116.2" cy="94.4" r="2.2" fill="#4870b0"/><circle cx="157.0" cy="52.2" r="2.2" fill="#868686"/><circle cx="114.5" cy="77.9" r="2.2" fill="#4870b0"/><circle cx="212.6" cy="115.0" r="2.2" fill="#de7f2c"/><circle cx="163.5" cy="39.3" r="2.2" fill="#868686"/><circle cx="165.5" cy="125.8" r="2.2" fill="#de7f2c"/><circle cx="135.0" cy="159.4" r="2.2" fill="#7a4b3d"/><circle cx="105.3" cy="125.4" r="2.2" fill="#4870b0"/><circle cx="151.0" cy="71.3" r="2.2" fill="#de7f2c"/><circle cx="166.6" cy="129.7" r="2.2" fill="#5b9e4a"/><circle cx="201.7" cy="92.5" r="2.2" fill="#de7f2c"/><circle cx="169.9" cy="115.6" r="2.2" fill="#5b9e4a"/><circle cx="130.3" cy="144.8" r="2.2" fill="#7a4b3d"/><circle cx="130.8" cy="49.3" r="2.2" fill="#868686"/><circle cx="145.4" cy="155.6" r="2.2" fill="#7a4b3d"/><circle cx="117.9" cy="122.2" r="2.2" fill="#62b4ca"/><circle cx="148.8" cy="58.8" r="2.2" fill="#4870b0"/><circle cx="197.2" cy="89.5" r="2.2" fill="#5b9e4a"/><circle cx="141.2" cy="40.4" r="2.2" fill="#868686"/><circle cx="170.7" cy="131.1" r="2.2" fill="#5b9e4a"/><circle cx="141.7" cy="115.3" r="2.2" fill="#4870b0"/><circle cx="130.5" cy="148.2" r="2.2" fill="#7a4b3d"/><circle cx="123.0" cy="76.6" r="2.2" fill="#4870b0"/><circle cx="99.1" cy="122.0" r="2.2" fill="#b6b63c"/><circle cx="143.3" cy="84.9" r="2.2" fill="#de7f2c"/><circle cx="94.9" cy="83.8" r="2.2" fill="#4870b0"/><circle cx="204.9" cy="87.3" r="2.2" fill="#5b9e4a"/><circle cx="188.4" cy="71.7" r="2.2" fill="#5b9e4a"/><circle cx="72.7" cy="105.6" r="2.2" fill="#62b4ca"/><circle cx="134.1" cy="142.0" r="2.2" fill="#7a4b3d"/><circle cx="148.6" cy="146.1" r="2.2" fill="#7a4b3d"/><circle cx="143.8" cy="93.2" r="2.2" fill="#de7f2c"/><circle cx="108.7" cy="91.4" r="2.2" fill="#62b4ca"/><circle cx="145.9" cy="68.8" r="2.2" fill="#7f64b4"/><circle cx="205.8" cy="121.3" r="2.2" fill="#5b9e4a"/><circle cx="123.5" cy="64.8" r="2.2" fill="#de7f2c"/><circle cx="147.1" cy="162.4" r="2.2" fill="#7a4b3d"/><circle cx="187.2" cy="132.8" r="2.2" fill="#de7f2c"/><circle cx="146.3" cy="87.1" r="2.2" fill="#de7f2c"/><circle cx="148.2" cy="123.6" r="2.2" fill="#4870b0"/><circle cx="114.2" cy="72.0" r="2.2" fill="#4870b0"/><circle cx="112.6" cy="66.0" r="2.2" fill="#de7f2c"/><circle cx="134.7" cy="100.0" r="2.2" fill="#de7f2c"/><circle cx="147.5" cy="73.5" r="2.2" fill="#7f64b4"/><circle cx="112.5" cy="162.1" r="2.2" fill="#7a4b3d"/><circle cx="167.7" cy="86.8" r="2.2" fill="#5b9e4a"/><circle cx="154.4" cy="48.1" r="2.2" fill="#868686"/><circle cx="101.6" cy="120.1" r="2.2" fill="#62b4ca"/><circle cx="109.6" cy="112.1" r="2.2" fill="#4870b0"/><circle cx="121.4" cy="92.4" r="2.2" fill="#5b9e4a"/><circle cx="115.3" cy="90.7" r="2.2" fill="#4870b0"/><circle cx="100.4" cy="112.6" r="2.2" fill="#5b9e4a"/><circle cx="152.5" cy="59.7" r="2.2" fill="#de7f2c"/><circle cx="148.8" cy="41.9" r="2.2" fill="#868686"/><circle cx="125.2" cy="62.7" r="2.2" fill="#4870b0"/><circle cx="144.1" cy="79.8" r="2.2" fill="#de7f2c"/><circle cx="109.0" cy="119.0" r="2.2" fill="#b6b63c"/><circle cx="208.5" cy="123.3" r="2.2" fill="#de7f2c"/><circle cx="219.7" cy="105.5" r="2.2" fill="#5b9e4a"/><circle cx="167.2" cy="96.9" r="2.2" fill="#62b4ca"/><circle cx="152.3" cy="94.5" r="2.2" fill="#de7f2c"/><circle cx="164.5" cy="113.2" r="2.2" fill="#de7f2c"/><circle cx="69.4" cy="105.1" r="2.2" fill="#62b4ca"/><circle cx="112.7" cy="79.7" r="2.2" fill="#4870b0"/><circle cx="207.8" cy="91.4" r="2.2" fill="#5b9e4a"/><circle cx="145.2" cy="159.7" r="2.2" fill="#7a4b3d"/><circle cx="154.8" cy="44.6" r="2.2" fill="#868686"/><circle cx="111.5" cy="92.4" r="2.2" fill="#4870b0"/><circle cx="186.8" cy="141.5" r="2.2" fill="#62b4ca"/><circle cx="209.3" cy="119.7" r="2.2" fill="#de7f2c"/><circle cx="133.9" cy="117.9" r="2.2" fill="#5b9e4a"/><circle cx="143.1" cy="96.3" r="2.2" fill="#4870b0"/><circle cx="140.7" cy="68.1" r="2.2" fill="#5b9e4a"/><circle cx="160.8" cy="124.2" r="2.2" fill="#7f64b4"/><circle cx="169.5" cy="88.1" r="2.2" fill="#62b4ca"/><circle cx="186.0" cy="110.7" r="2.2" fill="#de7f2c"/><circle cx="206.0" cy="87.6" r="2.2" fill="#5b9e4a"/><circle cx="147.1" cy="93.9" r="2.2" fill="#62b4ca"/><circle cx="141.9" cy="43.0" r="2.2" fill="#868686"/><circle cx="76.1" cy="103.8" r="2.2" fill="#62b4ca"/><circle cx="164.6" cy="41.3" r="2.2" fill="#868686"/><circle cx="152.0" cy="62.5" r="2.2" fill="#de7f2c"/><circle cx="168.8" cy="60.6" r="2.2" fill="#62b4ca"/><circle cx="194.5" cy="133.9" r="2.2" fill="#5b9e4a"/><circle cx="182.5" cy="130.6" r="2.2" fill="#de7f2c"/><circle cx="98.4" cy="93.5" r="2.2" fill="#4870b0"/><circle cx="180.7" cy="119.5" r="2.2" fill="#de7f2c"/><circle cx="169.1" cy="40.0" r="2.2" fill="#868686"/><circle cx="106.9" cy="106.1" r="2.2" fill="#b6b63c"/><circle cx="153.8" cy="126.1" r="2.2" fill="#de7f2c"/><circle cx="184.6" cy="116.8" r="2.2" fill="#de7f2c"/><circle cx="150.8" cy="74.0" r="2.2" fill="#7f64b4"/><circle cx="137.2" cy="51.0" r="2.2" fill="#868686"/><circle cx="124.5" cy="129.6" r="2.2" fill="#7f64b4"/><circle cx="156.3" cy="73.9" r="2.2" fill="#de7f2c"/><circle cx="116.8" cy="80.5" r="2.2" fill="#5b9e4a"/><circle cx="102.4" cy="117.1" r="2.2" fill="#b6b63c"/><circle cx="150.5" cy="161.5" r="2.2" fill="#7a4b3d"/><circle cx="213.7" cy="94.8" r="2.2" fill="#5b9e4a"/><circle cx="132.2" cy="86.4" r="2.2" fill="#4870b0"/><circle cx="191.7" cy="119.4" r="2.2" fill="#de7f2c"/><circle cx="148.1" cy="161.3" r="2.2" fill="#7a4b3d"/><circle cx="155.4" cy="91.2" r="2.2" fill="#62b4ca"/><circle cx="166.5" cy="83.8" r="2.2" fill="#62b4ca"/><circle cx="116.6" cy="103.2" r="2.2" fill="#62b4ca"/><circle cx="149.0" cy="87.4" r="2.2" fill="#62b4ca"/><circle cx="165.3" cy="40.0" r="2.2" fill="#868686"/><circle cx="161.1" cy="69.5" r="2.2" fill="#5b9e4a"/><circle cx="138.8" cy="52.9" r="2.2" fill="#868686"/><circle cx="135.3" cy="116.0" r="2.2" fill="#5b9e4a"/><circle cx="176.1" cy="114.8" r="2.2" fill="#de7f2c"/><circle cx="93.7" cy="83.9" r="2.2" fill="#4870b0"/><circle cx="134.4" cy="96.0" r="2.2" fill="#7f64b4"/><circle cx="117.8" cy="78.2" r="2.2" fill="#4870b0"/><circle cx="152.7" cy="87.5" r="2.2" fill="#62b4ca"/><circle cx="102.3" cy="102.4" r="2.2" fill="#b6b63c"/><circle cx="95.7" cy="79.0" r="2.2" fill="#4870b0"/><circle cx="185.3" cy="76.5" r="2.2" fill="#62b4ca"/><circle cx="154.3" cy="91.3" r="2.2" fill="#62b4ca"/><circle cx="160.6" cy="96.1" r="2.2" fill="#62b4ca"/><circle cx="180.4" cy="85.3" r="2.2" fill="#de7f2c"/><circle cx="166.0" cy="127.6" r="2.2" fill="#7f64b4"/><circle cx="173.9" cy="87.6" r="2.2" fill="#de7f2c"/><circle cx="128.5" cy="75.9" r="2.2" fill="#4870b0"/><circle cx="119.2" cy="103.0" r="2.2" fill="#4870b0"/><circle cx="156.1" cy="133.8" r="2.2" fill="#de7f2c"/><circle cx="194.4" cy="75.6" r="2.2" fill="#de7f2c"/><circle cx="165.4" cy="91.3" r="2.2" fill="#62b4ca"/><circle cx="173.4" cy="113.7" r="2.2" fill="#de7f2c"/><circle cx="95.0" cy="115.2" r="2.2" fill="#b6b63c"/><circle cx="185.3" cy="126.2" r="2.2" fill="#de7f2c"/><circle cx="117.4" cy="124.1" r="2.2" fill="#62b4ca"/><circle cx="121.4" cy="153.2" r="2.2" fill="#7a4b3d"/><circle cx="101.3" cy="112.1" r="2.2" fill="#b6b63c"/><circle cx="116.9" cy="106.1" r="2.2" fill="#de7f2c"/><circle cx="223.8" cy="92.4" r="2.2" fill="#5b9e4a"/><circle cx="101.2" cy="94.7" r="2.2" fill="#4870b0"/><circle cx="185.1" cy="72.9" r="2.2" fill="#4870b0"/><circle cx="171.1" cy="125.8" r="2.2" fill="#de7f2c"/><circle cx="165.4" cy="141.5" r="2.2" fill="#de7f2c"/><circle cx="68.9" cy="103.9" r="2.2" fill="#62b4ca"/><circle cx="147.6" cy="168.1" r="2.2" fill="#7a4b3d"/><circle cx="122.2" cy="160.3" r="2.2" fill="#7a4b3d"/><circle cx="162.0" cy="50.9" r="2.2" fill="#868686"/><circle cx="178.7" cy="75.9" r="2.2" fill="#62b4ca"/><circle cx="165.1" cy="128.0" r="2.2" fill="#de7f2c"/><circle cx="144.0" cy="87.8" r="2.2" fill="#5b9e4a"/><circle cx="201.8" cy="120.6" r="2.2" fill="#de7f2c"/><circle cx="200.7" cy="100.8" r="2.2" fill="#de7f2c"/><circle cx="168.6" cy="125.2" r="2.2" fill="#de7f2c"/><circle cx="170.3" cy="75.4" r="2.2" fill="#62b4ca"/><circle cx="138.2" cy="87.7" r="2.2" fill="#62b4ca"/><circle cx="209.9" cy="95.9" r="2.2" fill="#5b9e4a"/><circle cx="121.5" cy="66.5" r="2.2" fill="#5b9e4a"/><circle cx="163.8" cy="123.1" r="2.2" fill="#de7f2c"/><circle cx="135.1" cy="60.3" r="2.2" fill="#868686"/><circle cx="125.5" cy="84.7" r="2.2" fill="#4870b0"/><circle cx="125.6" cy="164.9" r="2.2" fill="#7a4b3d"/><circle cx="148.3" cy="148.6" r="2.2" fill="#7a4b3d"/><circle cx="208.1" cy="88.2" r="2.2" fill="#5b9e4a"/><circle cx="148.3" cy="74.0" r="2.2" fill="#4870b0"/><circle cx="167.4" cy="122.8" r="2.2" fill="#5b9e4a"/><circle cx="109.5" cy="111.1" r="2.2" fill="#4870b0"/><circle cx="149.2" cy="134.0" r="2.2" fill="#de7f2c"/><circle cx="149.1" cy="164.2" r="2.2" fill="#7a4b3d"/><circle cx="104.9" cy="111.9" r="2.2" fill="#5b9e4a"/><circle cx="142.8" cy="149.0" r="2.2" fill="#7a4b3d"/><circle cx="168.4" cy="70.6" r="2.2" fill="#de7f2c"/><circle cx="164.7" cy="147.9" r="2.2" fill="#7f64b4"/><circle cx="149.9" cy="128.0" r="2.2" fill="#de7f2c"/><circle cx="169.1" cy="132.0" r="2.2" fill="#7f64b4"/><circle cx="88.9" cy="78.8" r="2.2" fill="#4870b0"/><circle cx="140.2" cy="124.1" r="2.2" fill="#7f64b4"/><circle cx="141.7" cy="57.4" r="2.2" fill="#868686"/><circle cx="156.2" cy="82.5" r="2.2" fill="#62b4ca"/><circle cx="115.5" cy="109.3" r="2.2" fill="#de7f2c"/><circle cx="108.9" cy="109.0" r="2.2" fill="#4870b0"/><circle cx="129.0" cy="162.1" r="2.2" fill="#7a4b3d"/><circle cx="170.0" cy="77.3" r="2.2" fill="#62b4ca"/><circle cx="172.7" cy="111.1" r="2.2" fill="#de7f2c"/><circle cx="159.6" cy="88.6" r="2.2" fill="#de7f2c"/><circle cx="95.3" cy="85.4" r="2.2" fill="#4870b0"/><circle cx="173.3" cy="116.0" r="2.2" fill="#de7f2c"/><circle cx="70.6" cy="103.3" r="2.2" fill="#62b4ca"/><circle cx="208.3" cy="108.9" r="2.2" fill="#5b9e4a"/><circle cx="195.7" cy="129.4" r="2.2" fill="#de7f2c"/><circle cx="144.9" cy="161.6" r="2.2" fill="#7a4b3d"/><circle cx="135.3" cy="45.0" r="2.2" fill="#868686"/><circle cx="132.6" cy="110.5" r="2.2" fill="#4870b0"/><circle cx="177.8" cy="74.2" r="2.2" fill="#de7f2c"/><circle cx="141.4" cy="85.6" r="2.2" fill="#5b9e4a"/><circle cx="134.9" cy="51.4" r="2.2" fill="#868686"/><circle cx="168.6" cy="36.5" r="2.2" fill="#868686"/><circle cx="161.2" cy="127.4" r="2.2" fill="#5b9e4a"/><circle cx="111.0" cy="115.0" r="2.2" fill="#62b4ca"/><circle cx="122.0" cy="63.4" r="2.2" fill="#de7f2c"/><circle cx="157.0" cy="133.8" r="2.2" fill="#de7f2c"/><circle cx="178.5" cy="89.7" r="2.2" fill="#de7f2c"/><circle cx="167.3" cy="97.5" r="2.2" fill="#62b4ca"/><circle cx="130.5" cy="161.8" r="2.2" fill="#7a4b3d"/><circle cx="174.0" cy="79.8" r="2.2" fill="#62b4ca"/><circle cx="183.7" cy="120.9" r="2.2" fill="#5b9e4a"/><circle cx="70.0" cy="111.6" r="2.2" fill="#62b4ca"/><circle cx="204.7" cy="107.9" r="2.2" fill="#5b9e4a"/><circle cx="161.4" cy="127.2" r="2.2" fill="#de7f2c"/><circle cx="218.6" cy="101.8" r="2.2" fill="#5b9e4a"/><circle cx="193.4" cy="73.2" r="2.2" fill="#62b4ca"/><circle cx="208.4" cy="118.1" r="2.2" fill="#de7f2c"/><circle cx="124.5" cy="72.5" r="2.2" fill="#4870b0"/><circle cx="142.0" cy="78.3" r="2.2" fill="#5b9e4a"/><circle cx="123.1" cy="65.7" r="2.2" fill="#de7f2c"/><circle cx="159.3" cy="139.4" r="2.2" fill="#7f64b4"/><circle cx="172.8" cy="111.7" r="2.2" fill="#de7f2c"/><circle cx="163.7" cy="139.7" r="2.2" fill="#5b9e4a"/><circle cx="150.4" cy="130.7" r="2.2" fill="#4870b0"/><circle cx="225.3" cy="96.5" r="2.2" fill="#5b9e4a"/><circle cx="207.0" cy="87.4" r="2.2" fill="#5b9e4a"/><circle cx="108.5" cy="95.7" r="2.2" fill="#de7f2c"/><circle cx="213.4" cy="100.4" r="2.2" fill="#de7f2c"/><circle cx="107.8" cy="117.0" r="2.2" fill="#4870b0"/><circle cx="151.3" cy="145.6" r="2.2" fill="#4870b0"/><circle cx="122.9" cy="152.8" r="2.2" fill="#7a4b3d"/><circle cx="140.5" cy="39.9" r="2.2" fill="#868686"/><circle cx="187.1" cy="143.6" r="2.2" fill="#62b4ca"/><circle cx="162.4" cy="122.7" r="2.2" fill="#de7f2c"/><circle cx="136.7" cy="110.0" r="2.2" fill="#4870b0"/><circle cx="191.8" cy="77.0" r="2.2" fill="#62b4ca"/><circle cx="160.9" cy="120.6" r="2.2" fill="#de7f2c"/><circle cx="129.6" cy="58.3" r="2.2" fill="#868686"/><circle cx="171.1" cy="38.1" r="2.2" fill="#868686"/><circle cx="142.3" cy="134.1" r="2.2" fill="#7f64b4"/><circle cx="196.4" cy="94.1" r="2.2" fill="#de7f2c"/><circle cx="98.6" cy="102.4" r="2.2" fill="#b6b63c"/><circle cx="146.8" cy="105.7" r="2.2" fill="#4870b0"/><circle cx="131.4" cy="48.0" r="2.2" fill="#868686"/><circle cx="109.6" cy="118.1" r="2.2" fill="#b6b63c"/><circle cx="212.6" cy="100.5" r="2.2" fill="#de7f2c"/><circle cx="190.9" cy="77.7" r="2.2" fill="#62b4ca"/><circle cx="118.3" cy="121.4" r="2.2" fill="#4870b0"/><circle cx="118.4" cy="122.5" r="2.2" fill="#4870b0"/><circle cx="120.4" cy="62.5" r="2.2" fill="#de7f2c"/><circle cx="149.6" cy="49.8" r="2.2" fill="#868686"/><circle cx="123.1" cy="72.6" r="2.2" fill="#4870b0"/><circle cx="167.8" cy="38.4" r="2.2" fill="#868686"/><circle cx="185.0" cy="111.1" r="2.2" fill="#de7f2c"/><circle cx="156.7" cy="123.3" r="2.2" fill="#4870b0"/><circle cx="167.5" cy="95.7" r="2.2" fill="#62b4ca"/><circle cx="144.1" cy="42.3" r="2.2" fill="#868686"/><circle cx="114.8" cy="75.3" r="2.2" fill="#4870b0"/><circle cx="181.3" cy="115.0" r="2.2" fill="#de7f2c"/><circle cx="142.2" cy="147.1" r="2.2" fill="#7a4b3d"/><circle cx="171.8" cy="67.9" r="2.2" fill="#de7f2c"/><circle cx="183.5" cy="87.6" r="2.2" fill="#de7f2c"/><circle cx="154.3" cy="115.5" r="2.2" fill="#4870b0"/><circle cx="181.4" cy="75.6" r="2.2" fill="#de7f2c"/><circle cx="125.1" cy="155.9" r="2.2" fill="#7a4b3d"/><circle cx="112.0" cy="58.5" r="2.2" fill="#868686"/><circle cx="142.0" cy="40.3" r="2.2" fill="#868686"/><circle cx="151.8" cy="76.7" r="2.2" fill="#7f64b4"/><circle cx="181.2" cy="63.1" r="2.2" fill="#5b9e4a"/><circle cx="106.4" cy="97.8" r="2.2" fill="#62b4ca"/><circle cx="142.5" cy="125.5" r="2.2" fill="#5b9e4a"/><circle cx="201.7" cy="99.9" r="2.2" fill="#5b9e4a"/><circle cx="151.8" cy="49.2" r="2.2" fill="#868686"/><circle cx="107.4" cy="84.3" r="2.2" fill="#4870b0"/><circle cx="209.8" cy="105.2" r="2.2" fill="#5b9e4a"/><circle cx="75.8" cy="108.4" r="2.2" fill="#62b4ca"/><circle cx="74.4" cy="103.4" r="2.2" fill="#62b4ca"/><circle cx="107.9" cy="105.6" r="2.2" fill="#b6b63c"/><circle cx="159.8" cy="46.0" r="2.2" fill="#868686"/><circle cx="167.0" cy="135.6" r="2.2" fill="#5b9e4a"/><circle cx="141.2" cy="50.2" r="2.2" fill="#868686"/><circle cx="161.5" cy="52.8" r="2.2" fill="#868686"/><circle cx="145.8" cy="90.0" r="2.2" fill="#5b9e4a"/><circle cx="204.4" cy="90.2" r="2.2" fill="#de7f2c"/><circle cx="151.9" cy="88.0" r="2.2" fill="#62b4ca"/><circle cx="95.4" cy="111.1" r="2.2" fill="#4870b0"/><circle cx="101.0" cy="125.5" r="2.2" fill="#5b9e4a"/><circle cx="200.2" cy="119.7" r="2.2" fill="#de7f2c"/><circle cx="102.0" cy="92.1" r="2.2" fill="#4870b0"/><circle cx="153.3" cy="125.9" r="2.2" fill="#4870b0"/><circle cx="151.5" cy="83.7" r="2.2" fill="#62b4ca"/><circle cx="140.7" cy="165.7" r="2.2" fill="#7a4b3d"/><circle cx="131.7" cy="108.8" r="2.2" fill="#de7f2c"/><circle cx="188.7" cy="69.7" r="2.2" fill="#de7f2c"/><circle cx="154.3" cy="68.3" r="2.2" fill="#5b9e4a"/><circle cx="118.5" cy="105.0" r="2.2" fill="#de7f2c"/><circle cx="113.9" cy="158.5" r="2.2" fill="#7a4b3d"/><circle cx="178.8" cy="95.3" r="2.2" fill="#62b4ca"/><circle cx="169.0" cy="73.6" r="2.2" fill="#62b4ca"/><circle cx="221.7" cy="101.3" r="2.2" fill="#5b9e4a"/><circle cx="206.3" cy="116.9" r="2.2" fill="#de7f2c"/><circle cx="165.1" cy="85.1" r="2.2" fill="#62b4ca"/><circle cx="217.6" cy="95.0" r="2.2" fill="#5b9e4a"/><circle cx="104.5" cy="91.8" r="2.2" fill="#4870b0"/><circle cx="188.7" cy="69.2" r="2.2" fill="#62b4ca"/><circle cx="161.5" cy="91.6" r="2.2" fill="#62b4ca"/><circle cx="116.4" cy="80.1" r="2.2" fill="#4870b0"/><circle cx="148.0" cy="164.0" r="2.2" fill="#7a4b3d"/><circle cx="136.5" cy="62.2" r="2.2" fill="#868686"/><circle cx="131.0" cy="113.4" r="2.2" fill="#4870b0"/><circle cx="175.5" cy="121.2" r="2.2" fill="#de7f2c"/><circle cx="153.1" cy="51.1" r="2.2" fill="#868686"/><circle cx="170.5" cy="37.7" r="2.2" fill="#868686"/><circle cx="129.3" cy="113.8" r="2.2" fill="#b6b63c"/><circle cx="205.8" cy="88.3" r="2.2" fill="#5b9e4a"/><circle cx="140.1" cy="72.3" r="2.2" fill="#5b9e4a"/><circle cx="140.8" cy="105.6" r="2.2" fill="#4870b0"/><circle cx="100.9" cy="91.6" r="2.2" fill="#4870b0"/><circle cx="188.8" cy="118.6" r="2.2" fill="#5b9e4a"/><circle cx="121.1" cy="154.1" r="2.2" fill="#7a4b3d"/><circle cx="128.2" cy="49.3" r="2.2" fill="#868686"/><circle cx="165.6" cy="147.8" r="2.2" fill="#7f64b4"/><circle cx="179.9" cy="91.2" r="2.2" fill="#7f64b4"/><circle cx="142.7" cy="165.8" r="2.2" fill="#7a4b3d"/><circle cx="145.5" cy="146.4" r="2.2" fill="#7a4b3d"/><circle cx="220.1" cy="95.4" r="2.2" fill="#de7f2c"/><circle cx="150.9" cy="124.5" r="2.2" fill="#4870b0"/><circle cx="146.1" cy="89.2" r="2.2" fill="#5b9e4a"/><circle cx="121.6" cy="166.9" r="2.2" fill="#7a4b3d"/><circle cx="166.0" cy="136.5" r="2.2" fill="#5b9e4a"/><circle cx="194.9" cy="98.7" r="2.2" fill="#5b9e4a"/><circle cx="105.6" cy="116.0" r="2.2" fill="#b6b63c"/><circle cx="185.2" cy="91.9" r="2.2" fill="#62b4ca"/><circle cx="151.3" cy="58.7" r="2.2" fill="#de7f2c"/><circle cx="159.1" cy="44.4" r="2.2" fill="#868686"/><circle cx="136.2" cy="145.0" r="2.2" fill="#7a4b3d"/><circle cx="150.5" cy="91.5" r="2.2" fill="#62b4ca"/><circle cx="110.4" cy="121.0" r="2.2" fill="#b6b63c"/><circle cx="102.5" cy="78.2" r="2.2" fill="#b6b63c"/><circle cx="105.2" cy="122.1" r="2.2" fill="#b6b63c"/><circle cx="138.3" cy="125.9" r="2.2" fill="#7f64b4"/><circle cx="197.8" cy="128.2" r="2.2" fill="#de7f2c"/><circle cx="189.6" cy="114.6" r="2.2" fill="#de7f2c"/><circle cx="187.2" cy="138.4" r="2.2" fill="#5b9e4a"/><circle cx="141.6" cy="78.4" r="2.2" fill="#7f64b4"/><circle cx="140.4" cy="164.1" r="2.2" fill="#7a4b3d"/><circle cx="143.5" cy="79.3" r="2.2" fill="#de7f2c"/><circle cx="119.7" cy="64.3" r="2.2" fill="#4870b0"/><circle cx="164.8" cy="98.0" r="2.2" fill="#62b4ca"/><circle cx="212.3" cy="100.8" r="2.2" fill="#5b9e4a"/><circle cx="205.6" cy="116.8" r="2.2" fill="#de7f2c"/><circle cx="104.8" cy="80.6" r="2.2" fill="#4870b0"/><circle cx="134.9" cy="126.8" r="2.2" fill="#4870b0"/><circle cx="137.2" cy="145.1" r="2.2" fill="#7a4b3d"/><circle cx="175.9" cy="108.5" r="2.2" fill="#de7f2c"/><circle cx="192.0" cy="99.7" r="2.2" fill="#5b9e4a"/><circle cx="112.5" cy="77.7" r="2.2" fill="#4870b0"/><circle cx="107.7" cy="68.8" r="2.2" fill="#4870b0"/><circle cx="134.0" cy="127.6" r="2.2" fill="#7f64b4"/><circle cx="71.9" cy="108.7" r="2.2" fill="#62b4ca"/><circle cx="100.7" cy="121.4" r="2.2" fill="#62b4ca"/><circle cx="112.3" cy="91.3" r="2.2" fill="#4870b0"/><circle cx="114.0" cy="93.2" r="2.2" fill="#4870b0"/><circle cx="162.5" cy="124.8" r="2.2" fill="#de7f2c"/><circle cx="124.1" cy="109.4" r="2.2" fill="#4870b0"/><circle cx="146.0" cy="167.9" r="2.2" fill="#7a4b3d"/><circle cx="120.5" cy="117.5" r="2.2" fill="#de7f2c"/><circle cx="141.8" cy="50.5" r="2.2" fill="#868686"/><circle cx="149.9" cy="102.5" r="2.2" fill="#7f64b4"/><circle cx="145.7" cy="145.0" r="2.2" fill="#7a4b3d"/><circle cx="119.1" cy="123.7" r="2.2" fill="#4870b0"/><circle cx="176.9" cy="109.5" r="2.2" fill="#de7f2c"/><circle cx="106.9" cy="85.9" r="2.2" fill="#4870b0"/><circle cx="194.0" cy="137.4" r="2.2" fill="#de7f2c"/><circle cx="173.8" cy="125.2" r="2.2" fill="#de7f2c"/><circle cx="202.9" cy="100.5" r="2.2" fill="#5b9e4a"/><circle cx="122.8" cy="130.7" r="2.2" fill="#62b4ca"/><circle cx="92.7" cy="81.6" r="2.2" fill="#4870b0"/><circle cx="163.0" cy="35.7" r="2.2" fill="#868686"/><circle cx="187.0" cy="133.5" r="2.2" fill="#de7f2c"/><circle cx="109.2" cy="96.7" r="2.2" fill="#4870b0"/><circle cx="199.9" cy="103.9" r="2.2" fill="#de7f2c"/><circle cx="107.8" cy="117.4" r="2.2" fill="#5b9e4a"/><circle cx="142.7" cy="39.6" r="2.2" fill="#868686"/><circle cx="157.1" cy="50.6" r="2.2" fill="#868686"/><circle cx="91.3" cy="83.1" r="2.2" fill="#4870b0"/><circle cx="73.0" cy="105.3" r="2.2" fill="#62b4ca"/><circle cx="198.7" cy="106.6" r="2.2" fill="#de7f2c"/><circle cx="124.4" cy="71.4" r="2.2" fill="#4870b0"/><circle cx="67.6" cy="109.1" r="2.2" fill="#62b4ca"/><circle cx="154.8" cy="59.7" r="2.2" fill="#4870b0"/><circle cx="138.9" cy="116.3" r="2.2" fill="#4870b0"/><circle cx="169.8" cy="87.9" r="2.2" fill="#7f64b4"/><circle cx="218.5" cy="117.4" r="2.2" fill="#5b9e4a"/><circle cx="130.6" cy="113.8" r="2.2" fill="#4870b0"/><circle cx="195.9" cy="105.1" r="2.2" fill="#de7f2c"/><circle cx="194.1" cy="72.2" r="2.2" fill="#62b4ca"/><circle cx="108.0" cy="115.4" r="2.2" fill="#5b9e4a"/><circle cx="148.0" cy="148.4" r="2.2" fill="#7a4b3d"/><circle cx="152.2" cy="89.7" r="2.2" fill="#de7f2c"/><circle cx="211.7" cy="102.9" r="2.2" fill="#5b9e4a"/><circle cx="114.9" cy="103.9" r="2.2" fill="#4870b0"/><circle cx="103.4" cy="120.9" r="2.2" fill="#4870b0"/><circle cx="184.8" cy="88.3" r="2.2" fill="#7f64b4"/><circle cx="96.0" cy="82.4" r="2.2" fill="#b6b63c"/><circle cx="166.8" cy="93.2" r="2.2" fill="#62b4ca"/><circle cx="185.2" cy="108.0" r="2.2" fill="#de7f2c"/><circle cx="160.9" cy="123.6" r="2.2" fill="#5b9e4a"/><circle cx="103.9" cy="125.7" r="2.2" fill="#4870b0"/><circle cx="137.3" cy="143.8" r="2.2" fill="#7a4b3d"/><circle cx="171.2" cy="35.4" r="2.2" fill="#868686"/><circle cx="142.0" cy="99.5" r="2.2" fill="#4870b0"/><circle cx="120.6" cy="156.7" r="2.2" fill="#7a4b3d"/><circle cx="192.2" cy="100.0" r="2.2" fill="#5b9e4a"/><circle cx="195.0" cy="123.9" r="2.2" fill="#de7f2c"/><circle cx="213.6" cy="108.9" r="2.2" fill="#5b9e4a"/><circle cx="113.1" cy="94.5" r="2.2" fill="#4870b0"/><circle cx="124.0" cy="66.7" r="2.2" fill="#5b9e4a"/><circle cx="201.7" cy="104.8" r="2.2" fill="#de7f2c"/><circle cx="145.7" cy="93.3" r="2.2" fill="#62b4ca"/><circle cx="185.5" cy="119.5" r="2.2" fill="#de7f2c"/><circle cx="136.5" cy="106.9" r="2.2" fill="#4870b0"/><circle cx="173.0" cy="138.6" r="2.2" fill="#5b9e4a"/><circle cx="184.1" cy="118.2" r="2.2" fill="#de7f2c"/><circle cx="122.1" cy="104.9" r="2.2" fill="#de7f2c"/><circle cx="117.3" cy="94.9" r="2.2" fill="#4870b0"/><circle cx="149.4" cy="132.7" r="2.2" fill="#5b9e4a"/><circle cx="213.6" cy="120.6" r="2.2" fill="#de7f2c"/><circle cx="137.2" cy="147.6" r="2.2" fill="#7a4b3d"/><circle cx="157.2" cy="89.8" r="2.2" fill="#5b9e4a"/><circle cx="194.7" cy="93.0" r="2.2" fill="#5b9e4a"/><circle cx="188.4" cy="76.8" r="2.2" fill="#de7f2c"/><circle cx="146.2" cy="73.1" r="2.2" fill="#7f64b4"/><circle cx="209.0" cy="109.0" r="2.2" fill="#de7f2c"/><circle cx="94.2" cy="81.1" r="2.2" fill="#4870b0"/><circle cx="120.1" cy="91.3" r="2.2" fill="#4870b0"/><circle cx="157.3" cy="49.7" r="2.2" fill="#868686"/><circle cx="108.3" cy="71.3" r="2.2" fill="#4870b0"/><circle cx="122.4" cy="64.2" r="2.2" fill="#de7f2c"/><circle cx="139.0" cy="57.3" r="2.2" fill="#868686"/><circle cx="112.5" cy="95.3" r="2.2" fill="#4870b0"/><circle cx="142.1" cy="90.1" r="2.2" fill="#de7f2c"/><circle cx="99.2" cy="92.5" r="2.2" fill="#4870b0"/><circle cx="140.3" cy="74.7" r="2.2" fill="#7f64b4"/><circle cx="160.7" cy="90.9" r="2.2" fill="#62b4ca"/><circle cx="159.9" cy="100.5" r="2.2" fill="#5b9e4a"/><circle cx="131.6" cy="156.8" r="2.2" fill="#7a4b3d"/><circle cx="115.9" cy="158.1" r="2.2" fill="#7a4b3d"/><circle cx="161.7" cy="136.4" r="2.2" fill="#5b9e4a"/><circle cx="116.5" cy="80.6" r="2.2" fill="#4870b0"/><circle cx="104.9" cy="105.0" r="2.2" fill="#4870b0"/><circle cx="119.5" cy="111.0" r="2.2" fill="#de7f2c"/><circle cx="170.5" cy="76.6" r="2.2" fill="#de7f2c"/><circle cx="220.9" cy="108.4" r="2.2" fill="#de7f2c"/><circle cx="94.5" cy="112.4" r="2.2" fill="#b6b63c"/><circle cx="141.3" cy="110.5" r="2.2" fill="#b6b63c"/><circle cx="160.3" cy="64.6" r="2.2" fill="#de7f2c"/><circle cx="116.9" cy="108.4" r="2.2" fill="#62b4ca"/><circle cx="138.5" cy="85.2" r="2.2" fill="#de7f2c"/><circle cx="126.7" cy="72.5" r="2.2" fill="#4870b0"/><circle cx="208.6" cy="96.7" r="2.2" fill="#5b9e4a"/><circle cx="139.9" cy="142.7" r="2.2" fill="#7a4b3d"/><circle cx="146.6" cy="156.3" r="2.2" fill="#7a4b3d"/><circle cx="113.0" cy="99.0" r="2.2" fill="#4870b0"/><circle cx="147.1" cy="162.6" r="2.2" fill="#7a4b3d"/><circle cx="74.3" cy="112.3" r="2.2" fill="#62b4ca"/><circle cx="116.7" cy="86.4" r="2.2" fill="#5b9e4a"/><circle cx="168.8" cy="148.2" r="2.2" fill="#7f64b4"/><circle cx="117.5" cy="76.3" r="2.2" fill="#4870b0"/><circle cx="109.5" cy="72.9" r="2.2" fill="#4870b0"/><circle cx="146.1" cy="57.5" r="2.2" fill="#5b9e4a"/><circle cx="131.6" cy="98.5" r="2.2" fill="#7f64b4"/><circle cx="118.6" cy="100.2" r="2.2" fill="#5b9e4a"/><circle cx="148.2" cy="96.2" r="2.2" fill="#62b4ca"/><circle cx="143.5" cy="145.3" r="2.2" fill="#7a4b3d"/><circle cx="203.0" cy="106.0" r="2.2" fill="#de7f2c"/><circle cx="156.9" cy="93.3" r="2.2" fill="#62b4ca"/><circle cx="142.8" cy="76.9" r="2.2" fill="#de7f2c"/><circle cx="211.5" cy="99.6" r="2.2" fill="#5b9e4a"/><circle cx="210.4" cy="95.2" r="2.2" fill="#de7f2c"/><circle cx="73.1" cy="109.9" r="2.2" fill="#62b4ca"/><circle cx="122.2" cy="161.4" r="2.2" fill="#7a4b3d"/><circle cx="147.8" cy="157.2" r="2.2" fill="#7a4b3d"/><circle cx="137.1" cy="45.5" r="2.2" fill="#868686"/><circle cx="145.4" cy="121.2" r="2.2" fill="#7f64b4"/><circle cx="132.5" cy="50.4" r="2.2" fill="#868686"/><circle cx="127.7" cy="116.5" r="2.2" fill="#4870b0"/><circle cx="152.8" cy="60.3" r="2.2" fill="#868686"/><circle cx="103.2" cy="86.5" r="2.2" fill="#4870b0"/><circle cx="150.9" cy="75.4" r="2.2" fill="#7f64b4"/><circle cx="163.7" cy="35.5" r="2.2" fill="#868686"/><circle cx="165.0" cy="50.5" r="2.2" fill="#868686"/><circle cx="167.0" cy="137.7" r="2.2" fill="#7f64b4"/><circle cx="141.0" cy="83.1" r="2.2" fill="#de7f2c"/><circle cx="159.1" cy="84.8" r="2.2" fill="#62b4ca"/><circle cx="134.9" cy="89.0" r="2.2" fill="#4870b0"/><circle cx="146.2" cy="90.7" r="2.2" fill="#62b4ca"/><circle cx="101.8" cy="75.4" r="2.2" fill="#4870b0"/><circle cx="171.7" cy="109.7" r="2.2" fill="#de7f2c"/><circle cx="131.1" cy="97.3" r="2.2" fill="#5b9e4a"/><circle cx="170.2" cy="132.1" r="2.2" fill="#7f64b4"/><circle cx="138.4" cy="125.7" r="2.2" fill="#7f64b4"/><circle cx="152.3" cy="64.6" r="2.2" fill="#7f64b4"/><circle cx="109.6" cy="91.1" r="2.2" fill="#4870b0"/><circle cx="134.8" cy="94.5" r="2.2" fill="#de7f2c"/><circle cx="126.1" cy="88.4" r="2.2" fill="#4870b0"/><circle cx="128.3" cy="48.9" r="2.2" fill="#868686"/><circle cx="122.7" cy="155.1" r="2.2" fill="#7a4b3d"/><circle cx="161.2" cy="62.4" r="2.2" fill="#de7f2c"/><circle cx="151.4" cy="73.8" r="2.2" fill="#7f64b4"/><circle cx="136.5" cy="159.9" r="2.2" fill="#7a4b3d"/><circle cx="124.9" cy="155.9" r="2.2" fill="#7a4b3d"/><circle cx="211.5" cy="114.5" r="2.2" fill="#5b9e4a"/><circle cx="96.7" cy="110.9" r="2.2" fill="#b6b63c"/><circle cx="136.1" cy="44.0" r="2.2" fill="#868686"/><circle cx="139.2" cy="145.3" r="2.2" fill="#7a4b3d"/><circle cx="130.1" cy="56.4" r="2.2" fill="#868686"/><circle cx="176.9" cy="122.4" r="2.2" fill="#5b9e4a"/><circle cx="122.4" cy="83.6" r="2.2" fill="#4870b0"/><circle cx="187.3" cy="120.6" r="2.2" fill="#de7f2c"/><circle cx="213.6" cy="101.3" r="2.2" fill="#de7f2c"/><circle cx="114.9" cy="87.7" r="2.2" fill="#4870b0"/><circle cx="123.6" cy="158.6" r="2.2" fill="#7a4b3d"/><circle cx="151.0" cy="164.0" r="2.2" fill="#7a4b3d"/><circle cx="163.0" cy="132.9" r="2.2" fill="#7f64b4"/><circle cx="142.7" cy="129.5" r="2.2" fill="#4870b0"/><circle cx="198.6" cy="130.2" r="2.2" fill="#de7f2c"/><circle cx="151.0" cy="70.5" r="2.2" fill="#7f64b4"/><circle cx="117.4" cy="111.1" r="2.2" fill="#4870b0"/><circle cx="148.1" cy="85.6" r="2.2" fill="#62b4ca"/><circle cx="95.7" cy="78.6" r="2.2" fill="#4870b0"/><circle cx="121.8" cy="91.2" r="2.2" fill="#4870b0"/><circle cx="136.1" cy="130.4" r="2.2" fill="#4870b0"/><circle cx="135.4" cy="161.2" r="2.2" fill="#7a4b3d"/><circle cx="74.7" cy="108.6" r="2.2" fill="#62b4ca"/><circle cx="72.3" cy="108.3" r="2.2" fill="#62b4ca"/><circle cx="162.4" cy="67.8" r="2.2" fill="#5b9e4a"/><circle cx="152.2" cy="83.2" r="2.2" fill="#de7f2c"/><circle cx="229.3" cy="100.1" r="2.2" fill="#5b9e4a"/><circle cx="130.6" cy="105.1" r="2.2" fill="#5b9e4a"/><circle cx="131.3" cy="115.7" r="2.2" fill="#4870b0"/><circle cx="149.2" cy="118.3" r="2.2" fill="#7f64b4"/><circle cx="156.4" cy="54.2" r="2.2" fill="#868686"/><circle cx="89.8" cy="80.7" r="2.2" fill="#4870b0"/><circle cx="200.4" cy="126.5" r="2.2" fill="#de7f2c"/><circle cx="189.3" cy="111.1" r="2.2" fill="#de7f2c"/><circle cx="208.5" cy="121.1" r="2.2" fill="#de7f2c"/><circle cx="165.7" cy="117.3" r="2.2" fill="#de7f2c"/><circle cx="198.8" cy="100.9" r="2.2" fill="#5b9e4a"/><circle cx="168.0" cy="86.0" r="2.2" fill="#5b9e4a"/><circle cx="144.7" cy="100.9" r="2.2" fill="#5b9e4a"/><circle cx="147.1" cy="133.6" r="2.2" fill="#7f64b4"/><circle cx="188.0" cy="110.7" r="2.2" fill="#de7f2c"/><circle cx="136.9" cy="144.5" r="2.2" fill="#7a4b3d"/><circle cx="206.1" cy="125.4" r="2.2" fill="#de7f2c"/><circle cx="186.8" cy="116.4" r="2.2" fill="#de7f2c"/><circle cx="136.1" cy="129.3" r="2.2" fill="#4870b0"/><circle cx="171.2" cy="128.4" r="2.2" fill="#5b9e4a"/><circle cx="137.3" cy="160.8" r="2.2" fill="#7a4b3d"/><circle cx="112.4" cy="112.9" r="2.2" fill="#4870b0"/><circle cx="142.7" cy="142.3" r="2.2" fill="#7a4b3d"/><circle cx="179.5" cy="96.2" r="2.2" fill="#7f64b4"/><circle cx="123.3" cy="152.9" r="2.2" fill="#7a4b3d"/><circle cx="185.2" cy="137.7" r="2.2" fill="#62b4ca"/><circle cx="163.9" cy="116.5" r="2.2" fill="#de7f2c"/><circle cx="131.2" cy="104.1" r="2.2" fill="#5b9e4a"/><circle cx="155.4" cy="52.2" r="2.2" fill="#868686"/><circle cx="124.6" cy="153.7" r="2.2" fill="#7a4b3d"/><circle cx="156.3" cy="56.6" r="2.2" fill="#868686"/><circle cx="115.7" cy="104.1" r="2.2" fill="#62b4ca"/><circle cx="143.3" cy="96.4" r="2.2" fill="#5b9e4a"/><circle cx="189.9" cy="114.2" r="2.2" fill="#de7f2c"/><circle cx="154.0" cy="120.0" r="2.2" fill="#5b9e4a"/><circle cx="169.6" cy="69.6" r="2.2" fill="#62b4ca"/><circle cx="142.4" cy="87.2" r="2.2" fill="#de7f2c"/><circle cx="225.3" cy="112.2" r="2.2" fill="#5b9e4a"/><circle cx="138.5" cy="133.3" r="2.2" fill="#7f64b4"/><circle cx="218.0" cy="97.8" r="2.2" fill="#de7f2c"/><circle cx="207.7" cy="90.7" r="2.2" fill="#de7f2c"/><circle cx="196.4" cy="116.2" r="2.2" fill="#de7f2c"/><circle cx="161.3" cy="123.1" r="2.2" fill="#7f64b4"/><circle cx="146.6" cy="132.4" r="2.2" fill="#4870b0"/><circle cx="168.6" cy="85.6" r="2.2" fill="#de7f2c"/><circle cx="193.3" cy="125.8" r="2.2" fill="#de7f2c"/><circle cx="155.5" cy="91.2" r="2.2" fill="#62b4ca"/><circle cx="193.9" cy="128.4" r="2.2" fill="#de7f2c"/><circle cx="69.5" cy="104.3" r="2.2" fill="#62b4ca"/><circle cx="139.6" cy="131.6" r="2.2" fill="#de7f2c"/><circle cx="209.0" cy="101.9" r="2.2" fill="#5b9e4a"/><circle cx="217.3" cy="94.5" r="2.2" fill="#5b9e4a"/><circle cx="153.5" cy="118.9" r="2.2" fill="#5b9e4a"/><circle cx="136.9" cy="93.1" r="2.2" fill="#de7f2c"/><circle cx="203.1" cy="107.8" r="2.2" fill="#de7f2c"/><circle cx="167.8" cy="66.3" r="2.2" fill="#de7f2c"/><circle cx="114.7" cy="150.8" r="2.2" fill="#7a4b3d"/><circle cx="146.4" cy="99.2" r="2.2" fill="#7f64b4"/><circle cx="171.8" cy="134.6" r="2.2" fill="#5b9e4a"/><circle cx="138.9" cy="109.6" r="2.2" fill="#4870b0"/><circle cx="138.1" cy="103.4" r="2.2" fill="#de7f2c"/><circle cx="185.9" cy="127.0" r="2.2" fill="#de7f2c"/><circle cx="134.1" cy="110.7" r="2.2" fill="#5b9e4a"/><circle cx="196.1" cy="126.0" r="2.2" fill="#de7f2c"/><circle cx="189.1" cy="131.2" r="2.2" fill="#de7f2c"/><circle cx="185.0" cy="87.1" r="2.2" fill="#de7f2c"/><circle cx="165.5" cy="40.3" r="2.2" fill="#868686"/><circle cx="73.6" cy="112.4" r="2.2" fill="#62b4ca"/><circle cx="152.1" cy="163.0" r="2.2" fill="#7a4b3d"/><circle cx="165.4" cy="133.2" r="2.2" fill="#7f64b4"/><circle cx="77.2" cy="104.8" r="2.2" fill="#62b4ca"/><circle cx="168.5" cy="88.7" r="2.2" fill="#de7f2c"/><circle cx="187.5" cy="72.4" r="2.2" fill="#de7f2c"/><circle cx="151.9" cy="71.7" r="2.2" fill="#7f64b4"/><circle cx="137.3" cy="49.0" r="2.2" fill="#868686"/><circle cx="134.5" cy="143.5" r="2.2" fill="#7a4b3d"/><circle cx="214.5" cy="102.8" r="2.2" fill="#5b9e4a"/><circle cx="213.1" cy="97.4" r="2.2" fill="#de7f2c"/><circle cx="159.9" cy="99.4" r="2.2" fill="#62b4ca"/><circle cx="116.3" cy="64.6" r="2.2" fill="#de7f2c"/><circle cx="107.7" cy="88.6" r="2.2" fill="#4870b0"/><circle cx="162.1" cy="47.4" r="2.2" fill="#868686"/><circle cx="77.1" cy="108.3" r="2.2" fill="#62b4ca"/><circle cx="104.8" cy="78.6" r="2.2" fill="#4870b0"/><circle cx="183.9" cy="96.5" r="2.2" fill="#62b4ca"/><circle cx="203.1" cy="116.2" r="2.2" fill="#de7f2c"/><circle cx="139.1" cy="129.5" r="2.2" fill="#7f64b4"/><circle cx="182.3" cy="87.1" r="2.2" fill="#62b4ca"/><circle cx="195.6" cy="103.4" r="2.2" fill="#de7f2c"/><circle cx="163.1" cy="38.8" r="2.2" fill="#868686"/><circle cx="175.0" cy="122.7" r="2.2" fill="#de7f2c"/><circle cx="103.0" cy="96.3" r="2.2" fill="#4870b0"/><circle cx="161.9" cy="67.0" r="2.2" fill="#62b4ca"/><circle cx="113.9" cy="160.7" r="2.2" fill="#7a4b3d"/><circle cx="215.0" cy="98.1" r="2.2" fill="#5b9e4a"/><circle cx="143.3" cy="144.2" r="2.2" fill="#7a4b3d"/><circle cx="152.8" cy="144.9" r="2.2" fill="#5b9e4a"/><circle cx="108.8" cy="111.1" r="2.2" fill="#4870b0"/><circle cx="117.4" cy="160.8" r="2.2" fill="#7a4b3d"/><circle cx="150.4" cy="119.3" r="2.2" fill="#5b9e4a"/><circle cx="138.4" cy="70.7" r="2.2" fill="#4870b0"/><circle cx="159.8" cy="141.9" r="2.2" fill="#7f64b4"/><circle cx="153.4" cy="106.3" r="2.2" fill="#5b9e4a"/><circle cx="101.4" cy="101.3" r="2.2" fill="#4870b0"/><circle cx="154.3" cy="118.3" r="2.2" fill="#5b9e4a"/><circle cx="191.9" cy="112.3" r="2.2" fill="#de7f2c"/><circle cx="101.9" cy="116.1" r="2.2" fill="#4870b0"/><circle cx="106.5" cy="92.8" r="2.2" fill="#4870b0"/><circle cx="105.4" cy="91.7" r="2.2" fill="#4870b0"/><circle cx="105.5" cy="125.6" r="2.2" fill="#b6b63c"/><circle cx="119.9" cy="159.1" r="2.2" fill="#7a4b3d"/><circle cx="137.9" cy="129.8" r="2.2" fill="#4870b0"/><circle cx="130.8" cy="46.6" r="2.2" fill="#868686"/><circle cx="212.6" cy="117.8" r="2.2" fill="#de7f2c"/><circle cx="149.7" cy="70.5" r="2.2" fill="#4870b0"/><circle cx="168.0" cy="34.2" r="2.2" fill="#868686"/><circle cx="193.9" cy="72.2" r="2.2" fill="#62b4ca"/><circle cx="141.8" cy="131.7" r="2.2" fill="#4870b0"/><circle cx="168.2" cy="109.5" r="2.2" fill="#de7f2c"/><circle cx="117.8" cy="63.8" r="2.2" fill="#b6b63c"/><circle cx="146.9" cy="91.6" r="2.2" fill="#4870b0"/><circle cx="180.1" cy="72.4" r="2.2" fill="#62b4ca"/><circle cx="153.7" cy="132.0" r="2.2" fill="#5b9e4a"/><circle cx="143.3" cy="130.0" r="2.2" fill="#de7f2c"/><circle cx="139.4" cy="59.6" r="2.2" fill="#868686"/><circle cx="203.1" cy="121.5" r="2.2" fill="#5b9e4a"/><circle cx="115.9" cy="119.1" r="2.2" fill="#b6b63c"/><circle cx="192.2" cy="120.8" r="2.2" fill="#de7f2c"/><circle cx="141.9" cy="73.5" r="2.2" fill="#de7f2c"/><circle cx="132.6" cy="119.9" r="2.2" fill="#4870b0"/><circle cx="138.3" cy="69.4" r="2.2" fill="#7f64b4"/><circle cx="122.7" cy="154.7" r="2.2" fill="#7a4b3d"/><circle cx="222.9" cy="92.4" r="2.2" fill="#5b9e4a"/><circle cx="105.8" cy="117.7" r="2.2" fill="#b6b63c"/><circle cx="146.8" cy="87.8" r="2.2" fill="#de7f2c"/><circle cx="157.2" cy="141.5" r="2.2" fill="#7f64b4"/><circle cx="145.7" cy="162.5" r="2.2" fill="#7a4b3d"/><circle cx="147.7" cy="145.2" r="2.2" fill="#7a4b3d"/><circle cx="162.9" cy="38.3" r="2.2" fill="#868686"/><circle cx="139.1" cy="127.2" r="2.2" fill="#4870b0"/><circle cx="206.8" cy="113.6" r="2.2" fill="#de7f2c"/><circle cx="174.6" cy="114.7" r="2.2" fill="#de7f2c"/><circle cx="182.6" cy="73.2" r="2.2" fill="#5b9e4a"/><circle cx="134.6" cy="106.7" r="2.2" fill="#4870b0"/><circle cx="197.1" cy="82.5" r="2.2" fill="#de7f2c"/><circle cx="186.6" cy="122.1" r="2.2" fill="#de7f2c"/><circle cx="144.8" cy="42.6" r="2.2" fill="#868686"/><circle cx="100.0" cy="94.2" r="2.2" fill="#4870b0"/><circle cx="159.5" cy="144.0" r="2.2" fill="#5b9e4a"/><circle cx="149.9" cy="81.8" r="2.2" fill="#7f64b4"/><circle cx="115.7" cy="75.3" r="2.2" fill="#4870b0"/><circle cx="110.3" cy="112.9" r="2.2" fill="#5b9e4a"/><circle cx="150.5" cy="50.3" r="2.2" fill="#868686"/><circle cx="130.4" cy="163.3" r="2.2" fill="#7a4b3d"/><circle cx="157.4" cy="128.3" r="2.2" fill="#7f64b4"/><circle cx="116.4" cy="59.9" r="2.2" fill="#de7f2c"/><circle cx="149.4" cy="77.5" r="2.2" fill="#de7f2c"/><circle cx="71.9" cy="105.6" r="2.2" fill="#62b4ca"/><circle cx="181.2" cy="82.5" r="2.2" fill="#de7f2c"/><circle cx="209.9" cy="118.8" r="2.2" fill="#5b9e4a"/><circle cx="144.2" cy="43.1" r="2.2" fill="#868686"/><circle cx="143.2" cy="108.1" r="2.2" fill="#de7f2c"/><circle cx="135.7" cy="161.8" r="2.2" fill="#7a4b3d"/><circle cx="108.0" cy="80.4" r="2.2" fill="#4870b0"/><circle cx="105.3" cy="90.2" r="2.2" fill="#de7f2c"/><circle cx="202.7" cy="101.4" r="2.2" fill="#de7f2c"/><circle cx="181.5" cy="78.3" r="2.2" fill="#62b4ca"/><circle cx="187.1" cy="75.0" r="2.2" fill="#5b9e4a"/><circle cx="169.7" cy="93.5" r="2.2" fill="#62b4ca"/><circle cx="136.9" cy="92.1" r="2.2" fill="#4870b0"/><circle cx="162.0" cy="75.4" r="2.2" fill="#de7f2c"/><circle cx="211.0" cy="94.4" r="2.2" fill="#5b9e4a"/><circle cx="148.9" cy="157.2" r="2.2" fill="#7a4b3d"/><circle cx="160.1" cy="44.9" r="2.2" fill="#868686"/><circle cx="144.6" cy="167.6" r="2.2" fill="#7a4b3d"/><circle cx="174.0" cy="71.8" r="2.2" fill="#62b4ca"/><circle cx="116.2" cy="160.3" r="2.2" fill="#7a4b3d"/><circle cx="138.7" cy="119.2" r="2.2" fill="#4870b0"/><circle cx="145.5" cy="93.2" r="2.2" fill="#4870b0"/><circle cx="146.7" cy="94.3" r="2.2" fill="#62b4ca"/><circle cx="150.2" cy="130.9" r="2.2" fill="#4870b0"/><circle cx="150.5" cy="124.4" r="2.2" fill="#de7f2c"/><circle cx="105.9" cy="114.6" r="2.2" fill="#b6b63c"/><circle cx="171.8" cy="144.4" r="2.2" fill="#de7f2c"/><circle cx="76.3" cy="110.1" r="2.2" fill="#62b4ca"/><circle cx="107.4" cy="87.5" r="2.2" fill="#4870b0"/><circle cx="186.1" cy="129.9" r="2.2" fill="#de7f2c"/><circle cx="75.9" cy="106.7" r="2.2" fill="#62b4ca"/><circle cx="182.7" cy="71.2" r="2.2" fill="#62b4ca"/><circle cx="104.9" cy="86.7" r="2.2" fill="#de7f2c"/><circle cx="124.6" cy="93.1" r="2.2" fill="#4870b0"/><circle cx="180.1" cy="90.5" r="2.2" fill="#de7f2c"/><circle cx="119.5" cy="157.3" r="2.2" fill="#7a4b3d"/><circle cx="200.3" cy="92.7" r="2.2" fill="#de7f2c"/><circle cx="145.7" cy="73.0" r="2.2" fill="#de7f2c"/><circle cx="151.5" cy="122.9" r="2.2" fill="#4870b0"/><circle cx="100.7" cy="106.5" r="2.2" fill="#5b9e4a"/><circle cx="148.7" cy="147.7" r="2.2" fill="#7a4b3d"/><circle cx="165.2" cy="52.0" r="2.2" fill="#868686"/><circle cx="103.6" cy="114.6" r="2.2" fill="#5b9e4a"/><circle cx="213.9" cy="92.8" r="2.2" fill="#5b9e4a"/><circle cx="127.2" cy="71.3" r="2.2" fill="#4870b0"/><circle cx="167.9" cy="111.2" r="2.2" fill="#de7f2c"/><circle cx="175.3" cy="84.5" r="2.2" fill="#7f64b4"/><circle cx="173.1" cy="119.4" r="2.2" fill="#de7f2c"/><circle cx="102.5" cy="104.0" r="2.2" fill="#b6b63c"/><circle cx="144.2" cy="99.1" r="2.2" fill="#62b4ca"/><circle cx="77.3" cy="109.0" r="2.2" fill="#62b4ca"/><circle cx="217.9" cy="108.7" r="2.2" fill="#de7f2c"/><circle cx="162.2" cy="126.1" r="2.2" fill="#de7f2c"/><circle cx="112.5" cy="82.5" r="2.2" fill="#4870b0"/><circle cx="166.2" cy="132.2" r="2.2" fill="#7f64b4"/><circle cx="138.9" cy="151.9" r="2.2" fill="#7a4b3d"/><circle cx="150.8" cy="124.8" r="2.2" fill="#5b9e4a"/><circle cx="153.6" cy="44.8" r="2.2" fill="#868686"/><circle cx="158.9" cy="94.4" r="2.2" fill="#62b4ca"/><circle cx="132.7" cy="131.0" r="2.2" fill="#7f64b4"/><circle cx="144.1" cy="157.6" r="2.2" fill="#7a4b3d"/><circle cx="165.6" cy="69.6" r="2.2" fill="#62b4ca"/><circle cx="150.8" cy="68.2" r="2.2" fill="#de7f2c"/><circle cx="184.3" cy="141.9" r="2.2" fill="#5b9e4a"/><circle cx="145.0" cy="71.8" r="2.2" fill="#7f64b4"/><circle cx="190.7" cy="110.9" r="2.2" fill="#de7f2c"/><circle cx="171.4" cy="110.8" r="2.2" fill="#de7f2c"/><circle cx="73.6" cy="106.1" r="2.2" fill="#62b4ca"/><circle cx="137.6" cy="44.8" r="2.2" fill="#868686"/><circle cx="129.3" cy="62.0" r="2.2" fill="#de7f2c"/><circle cx="217.4" cy="102.3" r="2.2" fill="#de7f2c"/><circle cx="221.7" cy="102.6" r="2.2" fill="#5b9e4a"/><circle cx="129.2" cy="159.4" r="2.2" fill="#7a4b3d"/><circle cx="163.4" cy="140.6" r="2.2" fill="#5b9e4a"/><circle cx="201.4" cy="111.9" r="2.2" fill="#de7f2c"/><circle cx="148.0" cy="133.2" r="2.2" fill="#4870b0"/><circle cx="136.0" cy="55.7" r="2.2" fill="#868686"/><circle cx="104.1" cy="83.0" r="2.2" fill="#4870b0"/><circle cx="139.5" cy="105.1" r="2.2" fill="#4870b0"/><circle cx="194.2" cy="133.1" r="2.2" fill="#de7f2c"/><circle cx="187.2" cy="136.4" r="2.2" fill="#de7f2c"/><circle cx="147.9" cy="95.6" r="2.2" fill="#62b4ca"/><circle cx="212.2" cy="97.4" r="2.2" fill="#de7f2c"/><circle cx="165.6" cy="73.8" r="2.2" fill="#868686"/><circle cx="192.8" cy="134.3" r="2.2" fill="#de7f2c"/><circle cx="168.0" cy="59.2" r="2.2" fill="#62b4ca"/><circle cx="113.6" cy="157.8" r="2.2" fill="#7a4b3d"/><circle cx="143.0" cy="117.0" r="2.2" fill="#5b9e4a"/><circle cx="162.8" cy="130.9" r="2.2" fill="#de7f2c"/><circle cx="122.9" cy="125.9" r="2.2" fill="#62b4ca"/><circle cx="192.0" cy="128.2" r="2.2" fill="#de7f2c"/><circle cx="73.9" cy="107.7" r="2.2" fill="#62b4ca"/><circle cx="131.7" cy="98.3" r="2.2" fill="#5b9e4a"/><circle cx="203.4" cy="91.0" r="2.2" fill="#5b9e4a"/><circle cx="104.0" cy="72.8" r="2.2" fill="#4870b0"/><circle cx="104.6" cy="117.5" r="2.2" fill="#b6b63c"/><circle cx="125.5" cy="70.1" r="2.2" fill="#4870b0"/><circle cx="113.8" cy="78.4" r="2.2" fill="#4870b0"/><circle cx="175.6" cy="108.2" r="2.2" fill="#de7f2c"/><circle cx="177.2" cy="77.6" r="2.2" fill="#5b9e4a"/><circle cx="187.9" cy="121.3" r="2.2" fill="#5b9e4a"/><circle cx="105.4" cy="112.1" r="2.2" fill="#b6b63c"/><circle cx="206.9" cy="113.2" r="2.2" fill="#de7f2c"/><circle cx="144.0" cy="134.4" r="2.2" fill="#4870b0"/><circle cx="206.3" cy="85.7" r="2.2" fill="#de7f2c"/><circle cx="186.6" cy="132.6" r="2.2" fill="#5b9e4a"/><circle cx="185.5" cy="125.7" r="2.2" fill="#de7f2c"/><circle cx="153.9" cy="100.1" r="2.2" fill="#62b4ca"/><circle cx="190.9" cy="129.0" r="2.2" fill="#de7f2c"/><circle cx="89.4" cy="119.9" r="2.2" fill="#b6b63c"/><circle cx="171.1" cy="117.5" r="2.2" fill="#de7f2c"/><circle cx="137.3" cy="65.0" r="2.2" fill="#de7f2c"/><circle cx="150.0" cy="84.6" r="2.2" fill="#62b4ca"/><circle cx="192.7" cy="101.1" r="2.2" fill="#5b9e4a"/><circle cx="118.2" cy="59.7" r="2.2" fill="#5b9e4a"/><circle cx="180.9" cy="87.4" r="2.2" fill="#de7f2c"/><circle cx="124.1" cy="87.9" r="2.2" fill="#4870b0"/><circle cx="198.1" cy="67.8" r="2.2" fill="#de7f2c"/><circle cx="155.9" cy="81.7" r="2.2" fill="#de7f2c"/><circle cx="170.1" cy="61.8" r="2.2" fill="#5b9e4a"/><circle cx="162.1" cy="83.5" r="2.2" fill="#62b4ca"/><circle cx="190.3" cy="119.0" r="2.2" fill="#de7f2c"/><circle cx="106.6" cy="80.2" r="2.2" fill="#4870b0"/><circle cx="179.1" cy="85.8" r="2.2" fill="#7f64b4"/><circle cx="180.3" cy="110.7" r="2.2" fill="#de7f2c"/><circle cx="206.2" cy="123.0" r="2.2" fill="#de7f2c"/><circle cx="162.4" cy="139.1" r="2.2" fill="#5b9e4a"/><circle cx="100.5" cy="127.3" r="2.2" fill="#5b9e4a"/><circle cx="141.7" cy="135.1" r="2.2" fill="#5b9e4a"/><circle cx="175.0" cy="84.2" r="2.2" fill="#7f64b4"/><circle cx="214.5" cy="91.0" r="2.2" fill="#5b9e4a"/><circle cx="155.3" cy="91.2" r="2.2" fill="#62b4ca"/><circle cx="174.1" cy="90.8" r="2.2" fill="#7f64b4"/><circle cx="176.8" cy="112.9" r="2.2" fill="#de7f2c"/><circle cx="142.3" cy="125.4" r="2.2" fill="#4870b0"/><circle cx="152.0" cy="48.4" r="2.2" fill="#868686"/><circle cx="204.2" cy="104.9" r="2.2" fill="#de7f2c"/><circle cx="209.3" cy="88.1" r="2.2" fill="#5b9e4a"/><circle cx="114.5" cy="107.7" r="2.2" fill="#de7f2c"/><circle cx="170.8" cy="38.0" r="2.2" fill="#868686"/><circle cx="142.6" cy="157.9" r="2.2" fill="#7a4b3d"/><circle cx="141.7" cy="111.4" r="2.2" fill="#5b9e4a"/><circle cx="192.9" cy="115.2" r="2.2" fill="#de7f2c"/><circle cx="177.9" cy="115.2" r="2.2" fill="#5b9e4a"/><circle cx="215.3" cy="125.1" r="2.2" fill="#5b9e4a"/><circle cx="104.3" cy="96.1" r="2.2" fill="#4870b0"/><circle cx="99.2" cy="83.6" r="2.2" fill="#4870b0"/><circle cx="94.5" cy="113.9" r="2.2" fill="#4870b0"/><circle cx="122.6" cy="58.5" r="2.2" fill="#5b9e4a"/><circle cx="159.4" cy="103.9" r="2.2" fill="#62b4ca"/><circle cx="123.1" cy="108.9" r="2.2" fill="#62b4ca"/><circle cx="145.8" cy="94.3" r="2.2" fill="#4870b0"/><circle cx="175.7" cy="83.5" r="2.2" fill="#7f64b4"/><circle cx="212.0" cy="105.6" r="2.2" fill="#5b9e4a"/><circle cx="165.5" cy="83.6" r="2.2" fill="#62b4ca"/><circle cx="194.8" cy="105.7" r="2.2" fill="#5b9e4a"/><circle cx="168.7" cy="110.1" r="2.2" fill="#de7f2c"/><circle cx="166.7" cy="98.2" r="2.2" fill="#62b4ca"/><circle cx="198.8" cy="122.2" r="2.2" fill="#de7f2c"/><circle cx="123.5" cy="106.8" r="2.2" fill="#62b4ca"/><circle cx="188.4" cy="119.2" r="2.2" fill="#de7f2c"/><circle cx="198.6" cy="132.3" r="2.2" fill="#de7f2c"/><circle cx="106.7" cy="120.2" r="2.2" fill="#b6b63c"/><circle cx="158.3" cy="135.1" r="2.2" fill="#7f64b4"/><circle cx="140.0" cy="93.1" r="2.2" fill="#7f64b4"/><circle cx="150.1" cy="57.5" r="2.2" fill="#868686"/><circle cx="205.8" cy="121.0" r="2.2" fill="#de7f2c"/><circle cx="173.0" cy="122.3" r="2.2" fill="#de7f2c"/><circle cx="200.9" cy="109.8" r="2.2" fill="#de7f2c"/><circle cx="118.5" cy="86.5" r="2.2" fill="#5b9e4a"/><circle cx="150.0" cy="163.6" r="2.2" fill="#7a4b3d"/><circle cx="212.8" cy="114.4" r="2.2" fill="#5b9e4a"/><circle cx="122.1" cy="163.1" r="2.2" fill="#7a4b3d"/><circle cx="146.4" cy="41.6" r="2.2" fill="#868686"/><circle cx="105.0" cy="117.0" r="2.2" fill="#b6b63c"/><circle cx="137.9" cy="64.4" r="2.2" fill="#de7f2c"/><circle cx="177.1" cy="102.3" r="2.2" fill="#de7f2c"/><circle cx="109.4" cy="76.1" r="2.2" fill="#4870b0"/><circle cx="113.9" cy="94.1" r="2.2" fill="#4870b0"/><circle cx="213.6" cy="103.7" r="2.2" fill="#de7f2c"/><circle cx="178.6" cy="71.4" r="2.2" fill="#62b4ca"/><circle cx="165.4" cy="113.6" r="2.2" fill="#de7f2c"/><circle cx="132.3" cy="123.0" r="2.2" fill="#b6b63c"/><circle cx="104.3" cy="92.6" r="2.2" fill="#4870b0"/><circle cx="115.4" cy="88.6" r="2.2" fill="#5b9e4a"/><circle cx="112.8" cy="121.6" r="2.2" fill="#b6b63c"/><circle cx="93.2" cy="78.4" r="2.2" fill="#4870b0"/><circle cx="155.4" cy="92.5" r="2.2" fill="#62b4ca"/><circle cx="99.9" cy="94.1" r="2.2" fill="#4870b0"/><circle cx="160.2" cy="91.4" r="2.2" fill="#62b4ca"/><circle cx="211.4" cy="101.1" r="2.2" fill="#5b9e4a"/><circle cx="137.9" cy="127.5" r="2.2" fill="#5b9e4a"/><circle cx="200.6" cy="92.1" r="2.2" fill="#de7f2c"/><circle cx="127.2" cy="151.4" r="2.2" fill="#de7f2c"/><circle cx="163.3" cy="37.7" r="2.2" fill="#868686"/><circle cx="105.9" cy="74.5" r="2.2" fill="#4870b0"/><circle cx="154.4" cy="61.9" r="2.2" fill="#868686"/><circle cx="193.2" cy="94.5" r="2.2" fill="#de7f2c"/><circle cx="152.2" cy="94.9" r="2.2" fill="#de7f2c"/><circle cx="112.8" cy="77.6" r="2.2" fill="#4870b0"/><circle cx="140.3" cy="66.8" r="2.2" fill="#5b9e4a"/><circle cx="141.6" cy="97.9" r="2.2" fill="#5b9e4a"/><circle cx="102.1" cy="128.1" r="2.2" fill="#b6b63c"/><circle cx="197.3" cy="128.4" r="2.2" fill="#de7f2c"/><circle cx="172.3" cy="126.5" r="2.2" fill="#5b9e4a"/><circle cx="165.4" cy="88.2" r="2.2" fill="#7f64b4"/><circle cx="175.9" cy="74.3" r="2.2" fill="#de7f2c"/><circle cx="129.0" cy="105.9" r="2.2" fill="#4870b0"/><circle cx="142.0" cy="70.7" r="2.2" fill="#5b9e4a"/><circle cx="119.5" cy="109.6" r="2.2" fill="#62b4ca"/><circle cx="143.1" cy="156.6" r="2.2" fill="#7a4b3d"/><circle cx="98.8" cy="91.7" r="2.2" fill="#4870b0"/><circle cx="212.4" cy="90.9" r="2.2" fill="#de7f2c"/><circle cx="181.8" cy="116.9" r="2.2" fill="#de7f2c"/><circle cx="131.2" cy="146.7" r="2.2" fill="#7a4b3d"/><circle cx="127.2" cy="155.3" r="2.2" fill="#7a4b3d"/><circle cx="173.4" cy="86.9" r="2.2" fill="#7f64b4"/><circle cx="109.4" cy="118.3" r="2.2" fill="#b6b63c"/><circle cx="151.5" cy="52.7" r="2.2" fill="#868686"/><circle cx="163.9" cy="50.3" r="2.2" fill="#868686"/><circle cx="170.6" cy="72.5" r="2.2" fill="#868686"/><circle cx="107.5" cy="95.7" r="2.2" fill="#4870b0"/><circle cx="162.0" cy="105.3" r="2.2" fill="#62b4ca"/><circle cx="131.0" cy="87.8" r="2.2" fill="#5b9e4a"/><circle cx="119.0" cy="70.0" r="2.2" fill="#4870b0"/><circle cx="118.3" cy="78.6" r="2.2" fill="#4870b0"/><circle cx="103.6" cy="113.4" r="2.2" fill="#b6b63c"/><circle cx="141.7" cy="70.7" r="2.2" fill="#5b9e4a"/><circle cx="154.1" cy="45.4" r="2.2" fill="#868686"/><circle cx="121.2" cy="92.2" r="2.2" fill="#de7f2c"/><circle cx="102.5" cy="122.3" r="2.2" fill="#b6b63c"/><circle cx="140.6" cy="58.9" r="2.2" fill="#868686"/><circle cx="180.7" cy="121.6" r="2.2" fill="#de7f2c"/><circle cx="147.4" cy="38.4" r="2.2" fill="#868686"/><circle cx="98.4" cy="118.1" r="2.2" fill="#b6b63c"/><circle cx="169.1" cy="92.3" r="2.2" fill="#62b4ca"/><circle cx="196.0" cy="123.1" r="2.2" fill="#de7f2c"/><circle cx="108.0" cy="108.2" r="2.2" fill="#b6b63c"/><circle cx="138.7" cy="98.5" r="2.2" fill="#de7f2c"/><circle cx="149.1" cy="52.4" r="2.2" fill="#868686"/><circle cx="179.0" cy="120.9" r="2.2" fill="#de7f2c"/><circle cx="164.1" cy="84.0" r="2.2" fill="#7f64b4"/><circle cx="184.4" cy="122.6" r="2.2" fill="#de7f2c"/><circle cx="168.7" cy="95.4" r="2.2" fill="#de7f2c"/><circle cx="119.6" cy="61.1" r="2.2" fill="#5b9e4a"/><circle cx="133.8" cy="105.7" r="2.2" fill="#b6b63c"/><circle cx="140.7" cy="41.4" r="2.2" fill="#868686"/><circle cx="73.6" cy="109.3" r="2.2" fill="#62b4ca"/><circle cx="144.6" cy="43.4" r="2.2" fill="#868686"/><circle cx="150.0" cy="132.1" r="2.2" fill="#7f64b4"/><circle cx="113.4" cy="83.7" r="2.2" fill="#4870b0"/><circle cx="153.7" cy="100.3" r="2.2" fill="#62b4ca"/><circle cx="167.2" cy="89.7" r="2.2" fill="#de7f2c"/><circle cx="176.8" cy="118.4" r="2.2" fill="#de7f2c"/><circle cx="217.7" cy="99.6" r="2.2" fill="#5b9e4a"/><circle cx="210.5" cy="120.7" r="2.2" fill="#de7f2c"/><circle cx="69.4" cy="104.7" r="2.2" fill="#62b4ca"/><circle cx="163.5" cy="87.9" r="2.2" fill="#62b4ca"/><circle cx="99.3" cy="122.5" r="2.2" fill="#b6b63c"/><circle cx="185.7" cy="131.9" r="2.2" fill="#de7f2c"/><circle cx="122.3" cy="128.0" r="2.2" fill="#62b4ca"/><circle cx="165.5" cy="141.0" r="2.2" fill="#de7f2c"/><circle cx="112.1" cy="73.2" r="2.2" fill="#4870b0"/><circle cx="173.4" cy="85.1" r="2.2" fill="#de7f2c"/><circle cx="69.1" cy="110.4" r="2.2" fill="#62b4ca"/><circle cx="77.5" cy="109.9" r="2.2" fill="#62b4ca"/><circle cx="122.7" cy="71.1" r="2.2" fill="#4870b0"/><circle cx="137.8" cy="73.0" r="2.2" fill="#7f64b4"/><circle cx="89.9" cy="83.6" r="2.2" fill="#4870b0"/><circle cx="146.6" cy="55.8" r="2.2" fill="#868686"/><circle cx="191.5" cy="119.0" r="2.2" fill="#de7f2c"/><circle cx="145.5" cy="165.6" r="2.2" fill="#7a4b3d"/><circle cx="152.6" cy="79.6" r="2.2" fill="#7f64b4"/><circle cx="214.2" cy="104.6" r="2.2" fill="#5b9e4a"/><circle cx="138.3" cy="56.6" r="2.2" fill="#868686"/><circle cx="175.3" cy="69.0" r="2.2" fill="#de7f2c"/><circle cx="129.6" cy="159.9" r="2.2" fill="#7a4b3d"/><circle cx="205.6" cy="87.1" r="2.2" fill="#de7f2c"/><circle cx="134.5" cy="92.5" r="2.2" fill="#de7f2c"/><circle cx="192.0" cy="132.9" r="2.2" fill="#de7f2c"/><circle cx="109.5" cy="115.8" r="2.2" fill="#4870b0"/><circle cx="155.8" cy="79.6" r="2.2" fill="#5b9e4a"/><circle cx="185.2" cy="130.1" r="2.2" fill="#de7f2c"/><circle cx="175.7" cy="117.2" r="2.2" fill="#de7f2c"/><circle cx="182.1" cy="143.9" r="2.2" fill="#62b4ca"/><circle cx="135.7" cy="71.7" r="2.2" fill="#4870b0"/><circle cx="140.7" cy="74.0" r="2.2" fill="#7f64b4"/><circle cx="108.3" cy="88.3" r="2.2" fill="#4870b0"/><circle cx="125.4" cy="97.0" r="2.2" fill="#4870b0"/><circle cx="142.6" cy="146.3" r="2.2" fill="#7a4b3d"/><circle cx="118.7" cy="85.8" r="2.2" fill="#4870b0"/><circle cx="202.5" cy="127.2" r="2.2" fill="#de7f2c"/><circle cx="116.3" cy="103.0" r="2.2" fill="#4870b0"/><circle cx="203.8" cy="104.6" r="2.2" fill="#5b9e4a"/><circle cx="123.0" cy="58.7" r="2.2" fill="#5b9e4a"/><circle cx="187.7" cy="133.8" r="2.2" fill="#de7f2c"/><circle cx="146.2" cy="166.4" r="2.2" fill="#7a4b3d"/><circle cx="140.6" cy="57.9" r="2.2" fill="#868686"/><circle cx="133.5" cy="161.5" r="2.2" fill="#7a4b3d"/><circle cx="110.5" cy="154.7" r="2.2" fill="#7a4b3d"/><circle cx="95.8" cy="114.5" r="2.2" fill="#5b9e4a"/><circle cx="167.1" cy="67.8" r="2.2" fill="#62b4ca"/><circle cx="108.8" cy="86.2" r="2.2" fill="#4870b0"/></g>
<g><circle cx="239.3" cy="71.50" r="1.55" fill="#8a86b8"/><text class="lg" x="245.9" y="74.40">HIV</text><circle cx="239.3" cy="80.34" r="1.55" fill="#a9ab7a"/><text class="lg" x="245.9" y="83.24">KSHV</text><circle cx="239.3" cy="89.18" r="1.55" fill="#6a80b0"/><text class="lg" x="245.9" y="92.08">EBV</text><circle cx="239.3" cy="98.02" r="1.55" fill="#8e6e68"/><text class="lg" x="245.9" y="100.92">HPV</text><circle cx="239.3" cy="106.86" r="1.55" fill="#9c96b0"/><text class="lg" x="245.9" y="109.76">HTLV</text><circle cx="239.3" cy="115.70" r="1.55" fill="#7cb4c0"/><text class="lg" x="245.9" y="118.60">MCV</text><circle cx="239.3" cy="124.54" r="1.55" fill="#6a9a6e"/><text class="lg" x="245.9" y="127.44">HCV</text><circle cx="239.3" cy="133.38" r="1.55" fill="#c89a70"/><text class="lg" x="245.9" y="136.28">HBV</text></g>
<g><path d="M318.15,113.88 A52.8,52.8 0 0 1 315.70,105.80 Q367.3,94.6 407.02,129.38 A52.8,52.8 0 0 1 403.14,133.37 Q367.3,94.6 318.15,113.88Z" fill="#cbd0df" fill-opacity="0.8" stroke="#ffffff" stroke-width="0.35" stroke-opacity="0.7"/><path d="M347.91,45.49 A52.8,52.8 0 0 1 353.68,43.59 Q367.3,94.6 390.51,47.18 A52.8,52.8 0 0 1 395.36,49.87 Q367.3,94.6 347.91,45.49Z" fill="#b9b9bd" fill-opacity="0.8" stroke="#6f6f71" stroke-width="0.35" stroke-opacity="0.6"/><path d="M373.87,42.21 A52.8,52.8 0 0 1 379.85,43.31 Q367.3,94.6 382.78,44.12 A52.8,52.8 0 0 1 387.99,46.02 Q367.3,94.6 373.87,42.21Z" fill="#9fa9ab" fill-opacity="0.8" stroke="#5f6566" stroke-width="0.35" stroke-opacity="0.6"/><path d="M314.97,101.64 A52.8,52.8 0 0 1 314.54,96.60 Q367.3,94.6 419.07,104.99 A52.8,52.8 0 0 1 417.39,111.31 Q367.3,94.6 314.97,101.64Z" fill="#cbd0df" fill-opacity="0.8" stroke="#ffffff" stroke-width="0.35" stroke-opacity="0.7"/><path d="M314.65,90.69 A52.8,52.8 0 0 1 315.26,85.66 Q367.3,94.6 398.42,51.95 A52.8,52.8 0 0 1 402.73,55.45 Q367.3,94.6 314.65,90.69Z" fill="#cbd0df" fill-opacity="0.8" stroke="#ffffff" stroke-width="0.35" stroke-opacity="0.7"/><path d="M326.71,128.36 A52.8,52.8 0 0 1 323.66,124.32 Q367.3,94.6 363.66,147.27 A52.8,52.8 0 0 1 358.27,146.62 Q367.3,94.6 326.71,128.36Z" fill="#cbd0df" fill-opacity="0.8" stroke="#ffffff" stroke-width="0.35" stroke-opacity="0.7"/><path d="M315.70,105.80 A52.8,52.8 0 0 1 314.97,101.64 Q367.3,94.6 416.03,114.93 A52.8,52.8 0 0 1 413.85,119.51 Q367.3,94.6 315.70,105.80Z" fill="#cbd0df" fill-opacity="0.8" stroke="#ffffff" stroke-width="0.35" stroke-opacity="0.7"/><path d="M320.22,118.50 A52.8,52.8 0 0 1 318.15,113.88 Q367.3,94.6 397.94,137.60 A52.8,52.8 0 0 1 394.49,139.86 Q367.3,94.6 320.22,118.50Z" fill="#cbd0df" fill-opacity="0.8" stroke="#ffffff" stroke-width="0.35" stroke-opacity="0.7"/><path d="M322.73,122.90 A52.8,52.8 0 0 1 321.01,120.00 Q367.3,94.6 381.40,145.48 A52.8,52.8 0 0 1 375.79,146.71 Q367.3,94.6 322.73,122.90Z" fill="#cbd0df" fill-opacity="0.8" stroke="#ffffff" stroke-width="0.35" stroke-opacity="0.7"/><path d="M331.27,56.00 A52.8,52.8 0 0 1 334.83,52.96 Q367.3,94.6 395.36,49.87 A52.8,52.8 0 0 1 398.42,51.95 Q367.3,94.6 331.27,56.00Z" fill="#c3c6dc" fill-opacity="0.8" stroke="#757684" stroke-width="0.35" stroke-opacity="0.6"/><path d="M339.75,49.56 A52.8,52.8 0 0 1 344.20,47.12 Q367.3,94.6 411.09,124.09 A52.8,52.8 0 0 1 409.48,126.36 Q367.3,94.6 339.75,49.56Z" fill="#b9b9bd" fill-opacity="0.8" stroke="#6f6f71" stroke-width="0.35" stroke-opacity="0.6"/><path d="M326.47,61.12 A52.8,52.8 0 0 1 329.60,57.63 Q367.3,94.6 418.29,80.88 A52.8,52.8 0 0 1 418.86,83.24 Q367.3,94.6 326.47,61.12Z" fill="#c3c6dc" fill-opacity="0.8" stroke="#757684" stroke-width="0.35" stroke-opacity="0.6"/><path d="M314.50,94.06 A52.8,52.8 0 0 1 314.65,90.69 Q367.3,94.6 414.53,71.01 A52.8,52.8 0 0 1 415.88,73.93 Q367.3,94.6 314.50,94.06Z" fill="#cbd0df" fill-opacity="0.8" stroke="#ffffff" stroke-width="0.35" stroke-opacity="0.7"/><path d="M359.14,42.43 A52.8,52.8 0 0 1 361.77,42.09 Q367.3,94.6 410.86,64.77 A52.8,52.8 0 0 1 412.60,67.48 Q367.3,94.6 359.14,42.43Z" fill="#a7b1b3" fill-opacity="0.8" stroke="#646a6b" stroke-width="0.35" stroke-opacity="0.6"/><path d="M334.41,135.90 A52.8,52.8 0 0 1 332.14,133.99 Q367.3,94.6 402.73,55.45 A52.8,52.8 0 0 1 404.73,57.36 Q367.3,94.6 334.41,135.90Z" fill="#dac6a8" fill-opacity="0.8" stroke="#827664" stroke-width="0.35" stroke-opacity="0.6"/><path d="M328.95,130.89 A52.8,52.8 0 0 1 327.25,129.01 Q367.3,94.6 348.42,143.91 A52.8,52.8 0 0 1 345.61,142.74 Q367.3,94.6 328.95,130.89Z" fill="#cbd0df" fill-opacity="0.8" stroke="#ffffff" stroke-width="0.35" stroke-opacity="0.7"/><path d="M345.11,46.69 A52.8,52.8 0 0 1 347.91,45.49 Q367.3,94.6 412.60,67.48 A52.8,52.8 0 0 1 413.79,69.58 Q367.3,94.6 345.11,46.69Z" fill="#b9b9bd" fill-opacity="0.8" stroke="#6f6f71" stroke-width="0.35" stroke-opacity="0.6"/><path d="M319.12,73.00 A52.8,52.8 0 0 1 320.55,70.06 Q367.3,94.6 408.80,127.24 A52.8,52.8 0 0 1 407.75,128.54 Q367.3,94.6 319.12,73.00Z" fill="#d3dccb" fill-opacity="0.8" stroke="#7e8479" stroke-width="0.35" stroke-opacity="0.6"/><path d="M368.82,41.82 A52.8,52.8 0 0 1 371.86,42.00 Q367.3,94.6 417.78,79.12 A52.8,52.8 0 0 1 418.29,80.88 Q367.3,94.6 368.82,41.82Z" fill="#9fa9ab" fill-opacity="0.8" stroke="#5f6566" stroke-width="0.35" stroke-opacity="0.6"/><path d="M361.77,42.09 A52.8,52.8 0 0 1 363.75,41.92 Q367.3,94.6 387.99,46.02 A52.8,52.8 0 0 1 390.51,47.18 Q367.3,94.6 361.77,42.09Z" fill="#a7b1b3" fill-opacity="0.8" stroke="#646a6b" stroke-width="0.35" stroke-opacity="0.6"/><path d="M330.13,132.10 A52.8,52.8 0 0 1 328.95,130.89 Q367.3,94.6 343.53,141.75 A52.8,52.8 0 0 1 340.83,140.29 Q367.3,94.6 330.13,132.10Z" fill="#cbd0df" fill-opacity="0.8" stroke="#ffffff" stroke-width="0.35" stroke-opacity="0.7"/><path d="M329.60,57.63 A52.8,52.8 0 0 1 331.27,56.00 Q367.3,94.6 413.79,69.58 A52.8,52.8 0 0 1 414.53,71.01 Q367.3,94.6 329.60,57.63Z" fill="#c3c6dc" fill-opacity="0.8" stroke="#757684" stroke-width="0.35" stroke-opacity="0.6"/><path d="M320.61,119.25 A52.8,52.8 0 0 1 320.22,118.50 Q367.3,94.6 391.23,141.67 A52.8,52.8 0 0 1 388.57,142.93 Q367.3,94.6 320.61,119.25Z" fill="#cbd0df" fill-opacity="0.8" stroke="#ffffff" stroke-width="0.35" stroke-opacity="0.7"/><path d="M316.99,78.56 A52.8,52.8 0 0 1 317.61,76.76 Q367.3,94.6 418.99,83.84 A52.8,52.8 0 0 1 419.33,85.64 Q367.3,94.6 316.99,78.56Z" fill="#e0c9cc" fill-opacity="0.8" stroke="#86787a" stroke-width="0.35" stroke-opacity="0.6"/><path d="M371.86,42.00 A52.8,52.8 0 0 1 373.87,42.21 Q367.3,94.6 409.93,63.45 A52.8,52.8 0 0 1 410.86,64.77 Q367.3,94.6 371.86,42.00Z" fill="#9fa9ab" fill-opacity="0.8" stroke="#5f6566" stroke-width="0.35" stroke-opacity="0.6"/><path d="M324.34,63.90 A52.8,52.8 0 0 1 325.74,62.03 Q367.3,94.6 409.48,126.36 A52.8,52.8 0 0 1 408.80,127.24 Q367.3,94.6 324.34,63.90Z" fill="#c3c6dc" fill-opacity="0.8" stroke="#757684" stroke-width="0.35" stroke-opacity="0.6"/><path d="M338.04,50.65 A52.8,52.8 0 0 1 339.75,49.56 Q367.3,94.6 399.05,136.79 A52.8,52.8 0 0 1 397.94,137.60 Q367.3,94.6 338.04,50.65Z" fill="#b9b9bd" fill-opacity="0.8" stroke="#6f6f71" stroke-width="0.35" stroke-opacity="0.6"/><path d="M315.97,82.23 A52.8,52.8 0 0 1 316.28,81.00 Q367.3,94.6 350.33,144.60 A52.8,52.8 0 0 1 348.42,143.91 Q367.3,94.6 315.97,82.23Z" fill="#e0c9cc" fill-opacity="0.8" stroke="#86787a" stroke-width="0.35" stroke-opacity="0.6"/><path d="M314.54,96.60 A52.8,52.8 0 0 1 314.51,95.75 Q367.3,94.6 419.73,100.81 A52.8,52.8 0 0 1 419.40,103.18 Q367.3,94.6 314.54,96.60Z" fill="#cbd0df" fill-opacity="0.8" stroke="#ffffff" stroke-width="0.35" stroke-opacity="0.7"/><path d="M335.97,137.10 A52.8,52.8 0 0 1 334.41,135.90 Q367.3,94.6 419.33,85.64 A52.8,52.8 0 0 1 419.53,86.84 Q367.3,94.6 335.97,137.10Z" fill="#dac6a8" fill-opacity="0.8" stroke="#827664" stroke-width="0.35" stroke-opacity="0.6"/><path d="M323.66,124.32 A52.8,52.8 0 0 1 323.19,123.61 Q367.3,94.6 368.45,147.39 A52.8,52.8 0 0 1 366.42,147.39 Q367.3,94.6 323.66,124.32Z" fill="#cbd0df" fill-opacity="0.8" stroke="#ffffff" stroke-width="0.35" stroke-opacity="0.7"/><path d="M337.58,138.24 A52.8,52.8 0 0 1 336.77,137.68 Q367.3,94.6 340.83,140.29 A52.8,52.8 0 0 1 339.52,139.50 Q367.3,94.6 337.58,138.24Z" fill="#dac6a8" fill-opacity="0.8" stroke="#827664" stroke-width="0.35" stroke-opacity="0.6"/><path d="M325.74,62.03 A52.8,52.8 0 0 1 326.47,61.12 Q367.3,94.6 419.92,90.23 A52.8,52.8 0 0 1 420.01,91.51 Q367.3,94.6 325.74,62.03Z" fill="#c3c6dc" fill-opacity="0.8" stroke="#757684" stroke-width="0.35" stroke-opacity="0.6"/><path d="M337.20,51.22 A52.8,52.8 0 0 1 338.04,50.65 Q367.3,94.6 382.78,145.08 A52.8,52.8 0 0 1 381.40,145.48 Q367.3,94.6 337.20,51.22Z" fill="#b9b9bd" fill-opacity="0.8" stroke="#6f6f71" stroke-width="0.35" stroke-opacity="0.6"/><path d="M357.83,42.66 A52.8,52.8 0 0 1 359.14,42.43 Q367.3,94.6 411.71,123.16 A52.8,52.8 0 0 1 411.09,124.09 Q367.3,94.6 357.83,42.66Z" fill="#a7b1b3" fill-opacity="0.8" stroke="#646a6b" stroke-width="0.35" stroke-opacity="0.6"/><path d="M316.45,80.39 A52.8,52.8 0 0 1 316.81,79.17 Q367.3,94.6 407.75,128.54 A52.8,52.8 0 0 1 407.02,129.38 Q367.3,94.6 316.45,80.39Z" fill="#e0c9cc" fill-opacity="0.8" stroke="#86787a" stroke-width="0.35" stroke-opacity="0.6"/><path d="M314.50,94.91 A52.8,52.8 0 0 1 314.50,94.06 Q367.3,94.6 420.01,91.51 A52.8,52.8 0 0 1 420.07,92.80 Q367.3,94.6 314.50,94.91Z" fill="#cbd0df" fill-opacity="0.8" stroke="#ffffff" stroke-width="0.35" stroke-opacity="0.7"/><path d="M323.19,123.61 A52.8,52.8 0 0 1 322.73,122.90 Q367.3,94.6 373.51,147.03 A52.8,52.8 0 0 1 372.31,147.16 Q367.3,94.6 323.19,123.61Z" fill="#cbd0df" fill-opacity="0.8" stroke="#ffffff" stroke-width="0.35" stroke-opacity="0.7"/><path d="M321.01,120.00 A52.8,52.8 0 0 1 320.61,119.25 Q367.3,94.6 386.01,143.98 A52.8,52.8 0 0 1 385.14,144.29 Q367.3,94.6 321.01,120.00Z" fill="#cbd0df" fill-opacity="0.8" stroke="#ffffff" stroke-width="0.35" stroke-opacity="0.7"/><path d="M367.81,41.80 A52.8,52.8 0 0 1 368.82,41.82 Q367.3,94.6 400.13,135.95 A52.8,52.8 0 0 1 399.59,136.37 Q367.3,94.6 367.81,41.80Z" fill="#9fa9ab" fill-opacity="0.8" stroke="#5f6566" stroke-width="0.35" stroke-opacity="0.6"/><path d="M321.06,69.11 A52.8,52.8 0 0 1 321.60,68.16 Q367.3,94.6 418.86,83.24 A52.8,52.8 0 0 1 418.99,83.84 Q367.3,94.6 321.06,69.11Z" fill="#d3dccb" fill-opacity="0.8" stroke="#7e8479" stroke-width="0.35" stroke-opacity="0.6"/><path d="M336.77,137.68 A52.8,52.8 0 0 1 335.97,137.10 Q367.3,94.6 394.49,139.86 A52.8,52.8 0 0 1 393.90,140.21 Q367.3,94.6 336.77,137.68Z" fill="#dac6a8" fill-opacity="0.8" stroke="#827664" stroke-width="0.35" stroke-opacity="0.6"/><path d="M316.81,79.17 A52.8,52.8 0 0 1 316.99,78.56 Q367.3,94.6 416.41,113.99 A52.8,52.8 0 0 1 416.03,114.93 Q367.3,94.6 316.81,79.17Z" fill="#e0c9cc" fill-opacity="0.8" stroke="#86787a" stroke-width="0.35" stroke-opacity="0.6"/><path d="M320.55,70.06 A52.8,52.8 0 0 1 321.06,69.11 Q367.3,94.6 420.06,96.55 A52.8,52.8 0 0 1 420.04,97.07 Q367.3,94.6 320.55,70.06Z" fill="#d3dccb" fill-opacity="0.8" stroke="#7e8479" stroke-width="0.35" stroke-opacity="0.6"/><path d="M344.20,47.12 A52.8,52.8 0 0 1 345.11,46.69 Q367.3,94.6 420.08,96.03 A52.8,52.8 0 0 1 420.06,96.55 Q367.3,94.6 344.20,47.12Z" fill="#b9b9bd" fill-opacity="0.8" stroke="#6f6f71" stroke-width="0.35" stroke-opacity="0.6"/><path d="M314.51,95.75 A52.8,52.8 0 0 1 314.50,94.91 Q367.3,94.6 420.04,97.07 A52.8,52.8 0 0 1 420.02,97.59 Q367.3,94.6 314.51,95.75Z" fill="#cbd0df" fill-opacity="0.8" stroke="#ffffff" stroke-width="0.35" stroke-opacity="0.7"/><path d="M357.18,42.78 A52.8,52.8 0 0 1 357.83,42.66 Q367.3,94.6 399.59,136.37 A52.8,52.8 0 0 1 399.05,136.79 Q367.3,94.6 357.18,42.78Z" fill="#a7b1b3" fill-opacity="0.8" stroke="#646a6b" stroke-width="0.35" stroke-opacity="0.6"/><path d="M327.25,129.01 A52.8,52.8 0 0 1 326.71,128.36 Q367.3,94.6 354.30,145.78 A52.8,52.8 0 0 1 353.86,145.66 Q367.3,94.6 327.25,129.01Z" fill="#cbd0df" fill-opacity="0.8" stroke="#ffffff" stroke-width="0.35" stroke-opacity="0.7"/><path d="M316.28,81.00 A52.8,52.8 0 0 1 316.45,80.39 Q367.3,94.6 354.75,145.89 A52.8,52.8 0 0 1 354.30,145.78 Q367.3,94.6 316.28,81.00Z" fill="#e0c9cc" fill-opacity="0.8" stroke="#86787a" stroke-width="0.35" stroke-opacity="0.6"/><path d="M367.64,30.10 A64.5,64.5 0 0 1 382.90,32.02 L380.22,42.79 A53.4,53.4 0 0 0 367.58,41.20 Z" fill="#2e4a50"/><path d="M385.94,32.85 A64.5,64.5 0 0 1 413.23,49.31 L405.32,57.11 A53.4,53.4 0 0 0 382.73,43.48 Z" fill="#d89a48"/><path d="M415.23,51.44 A64.5,64.5 0 0 1 417.07,53.57 L408.50,60.63 A53.4,53.4 0 0 0 406.98,58.87 Z" fill="#4a8ec4"/><path d="M419.22,56.32 A64.5,64.5 0 0 1 426.76,69.61 L416.53,73.91 A53.4,53.4 0 0 0 410.28,62.91 Z" fill="#a23a3a"/><path d="M428.88,75.42 A64.5,64.5 0 0 1 431.14,85.40 L420.15,86.98 A53.4,53.4 0 0 0 418.28,78.72 Z" fill="#86b898"/><path d="M431.55,88.98 A64.5,64.5 0 0 1 431.77,92.69 L420.68,93.02 A53.4,53.4 0 0 0 420.50,89.95 Z" fill="#5a58a0"/><path d="M431.78,96.06 A64.5,64.5 0 0 1 431.68,98.54 L420.60,97.86 A53.4,53.4 0 0 0 420.69,95.81 Z" fill="#888270"/><path d="M431.39,101.90 A64.5,64.5 0 0 1 430.90,105.36 L419.95,103.51 A53.4,53.4 0 0 0 420.36,100.65 Z" fill="#7a5c48"/><path d="M430.59,107.02 A64.5,64.5 0 0 1 428.40,115.28 L417.88,111.72 A53.4,53.4 0 0 0 419.70,104.88 Z" fill="#a8a08c"/><path d="M427.39,118.03 A64.5,64.5 0 0 1 424.04,125.28 L414.27,120.00 A53.4,53.4 0 0 0 417.05,114.00 Z" fill="#86749a"/><path d="M421.70,129.26 A64.5,64.5 0 0 1 410.88,142.15 L403.38,133.97 A53.4,53.4 0 0 0 412.34,123.29 Z" fill="#a48264"/><path d="M407.63,144.94 A64.5,64.5 0 0 1 399.55,150.46 L394.00,140.85 A53.4,53.4 0 0 0 400.69,136.27 Z" fill="#7090a8"/><path d="M396.78,151.97 A64.5,64.5 0 0 1 393.02,153.75 L388.59,143.57 A53.4,53.4 0 0 0 391.71,142.09 Z" fill="#64587e"/><path d="M390.41,154.82 A64.5,64.5 0 0 1 388.83,155.40 L385.13,144.94 A53.4,53.4 0 0 0 386.44,144.45 Z" fill="#707070"/><path d="M386.48,156.18 A64.5,64.5 0 0 1 377.39,158.31 L375.65,147.34 A53.4,53.4 0 0 0 383.18,145.58 Z" fill="#555a48"/><path d="M375.16,158.62 A64.5,64.5 0 0 1 373.15,158.83 L372.14,147.78 A53.4,53.4 0 0 0 373.81,147.60 Z" fill="#b8a080"/><path d="M368.99,159.08 A64.5,64.5 0 0 1 365.95,159.09 L366.18,147.99 A53.4,53.4 0 0 0 368.70,147.98 Z" fill="#5a8cc0"/><path d="M363.14,158.97 A64.5,64.5 0 0 1 355.99,158.10 L357.94,147.17 A53.4,53.4 0 0 0 363.85,147.89 Z" fill="#a85a48"/><path d="M352.24,157.32 A64.5,64.5 0 0 1 350.61,156.90 L353.48,146.18 A53.4,53.4 0 0 0 354.83,146.52 Z" fill="#d0c8b0"/><path d="M346.83,155.77 A64.5,64.5 0 0 1 340.55,153.29 L345.16,143.19 A53.4,53.4 0 0 0 350.36,145.24 Z" fill="#6a5c96"/><path d="M338.52,152.32 A64.5,64.5 0 0 1 333.12,149.30 L339.00,139.89 A53.4,53.4 0 0 0 343.47,142.39 Z" fill="#586456"/><path d="M331.23,148.07 A64.5,64.5 0 0 1 324.14,142.53 L331.57,134.28 A53.4,53.4 0 0 0 337.44,138.87 Z" fill="#a87838"/><path d="M322.09,140.60 A64.5,64.5 0 0 1 303.78,83.40 L314.71,85.33 A53.4,53.4 0 0 0 329.87,132.69 Z" fill="#7c9ab4"/><path d="M304.53,79.76 A64.5,64.5 0 0 1 306.69,72.54 L317.12,76.34 A53.4,53.4 0 0 0 315.33,82.32 Z" fill="#a84458"/><path d="M308.33,68.47 A64.5,64.5 0 0 1 311.61,62.06 L321.19,67.66 A53.4,53.4 0 0 0 318.48,72.97 Z" fill="#92a882"/><path d="M314.66,57.33 A64.5,64.5 0 0 1 327.86,43.57 L334.64,52.35 A53.4,53.4 0 0 0 323.72,63.74 Z" fill="#5c6ca2"/><path d="M330.30,41.76 A64.5,64.5 0 0 1 350.93,32.21 L353.75,42.95 A53.4,53.4 0 0 0 336.67,50.86 Z" fill="#747272"/><path d="M354.66,31.35 A64.5,64.5 0 0 1 363.25,30.23 L363.95,41.31 A53.4,53.4 0 0 0 356.84,42.24 Z" fill="#2f4d50"/><text class="cl" x="351.5" y="26.5">HBV</text><text class="cl" x="370" y="26.5">KSHV</text><text class="cl" x="327.5" y="35">HCV</text><text class="cl" x="401.5" y="38.3">Virus</text><text class="cl" x="307.5" y="50.8">MCV</text><text class="cl" x="295" y="64.8">HTLV</text><text class="cl" x="291" y="76.3">HPV</text><text class="cl" x="291" y="115.8">HIV</text><text class="cl" x="425" y="61.8">Genetic Fuction</text><text class="cl" x="432.5" y="81.3">Neoplastic_Process</text><text class="cl" x="435" y="113.9">Geographic_Area</text><text class="cl" x="432.5" y="124.8">Body_Substance</text><text class="cl" x="425" y="138.0">Disease_or_Syndrome</text><text class="cl" x="409" y="154.8">Gene_or_Genome</text><text class="cl" x="385" y="164.0">Age_Group</text><text class="cl" x="316.5" y="150.8">EBV</text><text class="cl" x="281" y="166.3">Organ_or_Tissue_Function</text><text class="cl" x="355" y="173.9">Immunologic_Factor</text><line x1="336.3" y1="160.4" x2="344.4" y2="155.8" stroke="#444" stroke-width="0.4"/><line x1="361.6" y1="160.4" x2="368.4" y2="168.3" stroke="#444" stroke-width="0.4"/></g>
<g class="hm"><rect x="79.30" y="184.00" width="52.77" height="14.49" fill="#cde3b7"/><text x="105.39" y="192.34" fill="#141a14" stroke="#141a14">Cytomegalovirus</text><rect x="131.47" y="184.00" width="52.77" height="14.49" fill="#d2e4b7"/><text x="157.56" y="192.34" fill="#141a14" stroke="#141a14">human herpesvirus 6</text><rect x="183.65" y="184.00" width="52.77" height="14.49" fill="#dee9bc"/><text x="209.74" y="192.34" fill="#141a14" stroke="#141a14">Herpesviridae</text><rect x="235.82" y="184.00" width="52.77" height="14.49" fill="#dce8ba"/><text x="261.91" y="192.34" fill="#141a14" stroke="#141a14">Simplexvirus</text><rect x="288.00" y="184.00" width="52.77" height="14.49" fill="#d7e6b7"/><text x="314.09" y="192.34" fill="#141a14" stroke="#141a14">herpesvirus 3, human</text><rect x="340.18" y="184.00" width="52.77" height="14.49" fill="#dae7b9"/><text x="366.26" y="192.34" fill="#141a14" stroke="#141a14">herpesvirus 6, human</text><rect x="392.35" y="184.00" width="52.77" height="14.49" fill="#dde9bb"/><text x="418.44" y="192.34" fill="#141a14" stroke="#141a14">HIV</text><rect x="444.52" y="184.00" width="52.77" height="14.49" fill="#dee9bc"/><text x="470.61" y="192.34" fill="#141a14" stroke="#141a14">human papillomavirus</text><text class="yl" x="76.6" y="193.14">EBV-Virus</text><line x1="77.3" x2="79.3" y1="190.94" y2="190.94" stroke="#444" stroke-width="0.4"/><rect x="79.30" y="197.89" width="52.77" height="14.49" fill="#3f74ae"/><text x="105.39" y="206.23" fill="#e6edf4" stroke="none">Mutation</text><rect x="131.47" y="197.89" width="52.77" height="14.49" fill="#5598bf"/><text x="157.56" y="206.23" fill="#e6edf4" stroke="none">DNA Replication</text><rect x="183.65" y="197.89" width="52.77" height="14.49" fill="#a5d5bc"/><text x="209.74" y="206.23" fill="#141a14" stroke="#141a14">DNA Integration</text><rect x="235.82" y="197.89" width="52.77" height="14.49" fill="#c7e4b6"/><text x="261.91" y="206.23" fill="#141a14" stroke="#141a14">Genetic Polymorphism</text><rect x="288.00" y="197.89" width="52.77" height="14.49" fill="#cde4b5"/><text x="314.09" y="206.23" fill="#141a14" stroke="#141a14">Gene Expression Process</text><rect x="340.18" y="197.89" width="52.77" height="14.49" fill="#d0e4b7"/><text x="366.26" y="206.23" fill="#141a14" stroke="#141a14">Protein Overexpression</text><rect x="392.35" y="197.89" width="52.77" height="14.49" fill="#d2e4b7"/><text x="418.44" y="206.23" fill="#141a14" stroke="#141a14">protein expression</text><rect x="444.52" y="197.89" width="52.77" height="14.49" fill="#d4e5b8"/><text x="470.61" y="206.23" fill="#141a14" stroke="#141a14">Biological Evolution</text><text class="yl" x="76.6" y="207.03">HBV-Genetic_Function</text><line x1="77.3" x2="79.3" y1="204.83" y2="204.83" stroke="#444" stroke-width="0.4"/><rect x="79.30" y="211.78" width="52.77" height="14.49" fill="#c8e3b6"/><text x="105.39" y="220.12" fill="#141a14" stroke="#141a14">Hepatitis Delta Virus</text><rect x="131.47" y="211.78" width="52.77" height="14.49" fill="#d4e5b8"/><text x="157.56" y="220.12" fill="#141a14" stroke="#141a14">hepatitis C virus</text><rect x="183.65" y="211.78" width="52.77" height="14.49" fill="#dee9bc"/><text x="209.74" y="220.12" fill="#141a14" stroke="#141a14">HIV</text><rect x="235.82" y="211.78" width="52.77" height="14.49" fill="#dee9bc"/><text x="261.91" y="220.12" fill="#141a14" stroke="#141a14">GB virus C</text><rect x="288.00" y="211.78" width="52.77" height="14.49" fill="#dce8ba"/><text x="314.09" y="220.12" fill="#141a14" stroke="#141a14">Adenoviruses</text><rect x="340.18" y="211.78" width="52.77" height="14.49" fill="#dde9bb"/><text x="366.26" y="220.12" fill="#141a14" stroke="#141a14">hepatitis A virus</text><rect x="392.35" y="211.78" width="52.77" height="14.49" fill="#dee9bc"/><text x="418.44" y="220.12" fill="#141a14" stroke="#141a14">HIV-1</text><rect x="444.52" y="211.78" width="52.77" height="14.49" fill="#dfeabc"/><text x="470.61" y="220.12" fill="#141a14" stroke="#141a14">Hepatitis E virus</text><text class="yl" x="76.6" y="220.92">HBV-Virus</text><line x1="77.3" x2="79.3" y1="218.72" y2="218.72" stroke="#444" stroke-width="0.4"/><rect x="79.30" y="225.67" width="52.77" height="14.49" fill="#4a88bf"/><text x="105.39" y="234.02" fill="#e6edf4" stroke="none">Hepatitis C</text><rect x="131.47" y="225.67" width="52.77" height="14.49" fill="#d1e4b7"/><text x="157.56" y="234.02" fill="#141a14" stroke="#141a14">Liver Cirrhosis</text><rect x="183.65" y="225.67" width="52.77" height="14.49" fill="#d4e5b8"/><text x="209.74" y="234.02" fill="#141a14" stroke="#141a14">Hepatitis C, Chronic</text><rect x="235.82" y="225.67" width="52.77" height="14.49" fill="#dae7b9"/><text x="261.91" y="234.02" fill="#141a14" stroke="#141a14">Liver diseases</text><rect x="288.00" y="225.67" width="52.77" height="14.49" fill="#dce8ba"/><text x="314.09" y="234.02" fill="#141a14" stroke="#141a14">Hepatitis B</text><rect x="340.18" y="225.67" width="52.77" height="14.49" fill="#dde9bb"/><text x="366.26" y="234.02" fill="#141a14" stroke="#141a14">Hepatitis A</text><rect x="392.35" y="225.67" width="52.77" height="14.49" fill="#dde9bb"/><text x="418.44" y="234.02" fill="#141a14" stroke="#141a14">Coinfection</text><rect x="444.52" y="225.67" width="52.77" height="14.49" fill="#dee9bc"/><text x="470.61" y="234.02" fill="#141a14" stroke="#141a14">HIV Infections</text><text class="yl" x="76.6" y="234.81">HCV-Disease_or_Syndrome</text><line x1="77.3" x2="79.3" y1="232.62" y2="232.62" stroke="#444" stroke-width="0.4"/><rect x="79.30" y="239.56" width="52.77" height="14.49" fill="#62abb8"/><text x="105.39" y="247.91" fill="#141a14" stroke="#141a14">hepatitis B virus</text><rect x="131.47" y="239.56" width="52.77" height="14.49" fill="#7cbfba"/><text x="157.56" y="247.91" fill="#141a14" stroke="#141a14">HIV</text><rect x="183.65" y="239.56" width="52.77" height="14.49" fill="#90cbb9"/><text x="209.74" y="247.91" fill="#141a14" stroke="#141a14">GB virus C</text><rect x="235.82" y="239.56" width="52.77" height="14.49" fill="#c7e4b6"/><text x="261.91" y="247.91" fill="#141a14" stroke="#141a14">HIV-1</text><rect x="288.00" y="239.56" width="52.77" height="14.49" fill="#d7e6b7"/><text x="314.09" y="247.91" fill="#141a14" stroke="#141a14">Hepatitis C-Like Virus</text><rect x="340.18" y="239.56" width="52.77" height="14.49" fill="#dae7b9"/><text x="366.26" y="247.91" fill="#141a14" stroke="#141a14">Hepatitis Delta Virus</text><rect x="392.35" y="239.56" width="52.77" height="14.49" fill="#dce8ba"/><text x="418.44" y="247.91" fill="#141a14" stroke="#141a14">Hepatitis E virus</text><rect x="444.52" y="239.56" width="52.77" height="14.49" fill="#dde9bb"/><text x="470.61" y="247.91" fill="#141a14" stroke="#141a14">hepatitis A virus</text><text class="yl" x="76.6" y="248.70">HCV-Virus</text><line x1="77.3" x2="79.3" y1="246.50" y2="246.50" stroke="#444" stroke-width="0.4"/><rect x="79.30" y="253.45" width="52.77" height="14.49" fill="#5a9cc0"/><text x="105.39" y="261.79" fill="#e6edf4" stroke="none">Serum</text><rect x="131.47" y="253.45" width="52.77" height="14.49" fill="#74b9bb"/><text x="157.56" y="261.79" fill="#141a14" stroke="#141a14">Cerebrospinal Fluid</text><rect x="183.65" y="253.45" width="52.77" height="14.49" fill="#70b3bc"/><text x="209.74" y="261.79" fill="#141a14" stroke="#141a14">peripheral blood</text><rect x="235.82" y="253.45" width="52.77" height="14.49" fill="#d1e5b7"/><text x="261.91" y="261.79" fill="#141a14" stroke="#141a14">Sputum</text><rect x="288.00" y="253.45" width="52.77" height="14.49" fill="#d2e4b7"/><text x="314.09" y="261.79" fill="#141a14" stroke="#141a14">saliva</text><rect x="340.18" y="253.45" width="52.77" height="14.49" fill="#d2e4b7"/><text x="366.26" y="261.79" fill="#141a14" stroke="#141a14">Plasma specimen</text><rect x="392.35" y="253.45" width="52.77" height="14.49" fill="#c7e4b5"/><text x="418.44" y="261.79" fill="#141a14" stroke="#141a14">Semen</text><rect x="444.52" y="253.45" width="52.77" height="14.49" fill="#d4e5b8"/><text x="470.61" y="261.79" fill="#141a14" stroke="#141a14">Urine</text><text class="yl" x="76.6" y="262.59">HIV-Body_Substance</text><line x1="77.3" x2="79.3" y1="260.39" y2="260.39" stroke="#444" stroke-width="0.4"/><rect x="79.30" y="267.34" width="52.77" height="14.49" fill="#b2dbbb"/><text x="105.39" y="274.39" fill="#141a14" stroke="#141a14">Acquired immunodeficiency</text><text x="105.39" y="278.69" fill="#141a14" stroke="#141a14">Syndrome</text><rect x="131.47" y="267.34" width="52.77" height="14.49" fill="#bfdfb5"/><text x="157.56" y="275.69" fill="#141a14" stroke="#141a14">Tuberculosis</text><rect x="183.65" y="267.34" width="52.77" height="14.49" fill="#c6e3b5"/><text x="209.74" y="275.69" fill="#141a14" stroke="#141a14">Hepatitis C</text><rect x="235.82" y="267.34" width="52.77" height="14.49" fill="#d0e4b7"/><text x="261.91" y="275.69" fill="#141a14" stroke="#141a14">HIV Infections</text><rect x="288.00" y="267.34" width="52.77" height="14.49" fill="#d3e5b7"/><text x="314.09" y="274.39" fill="#141a14" stroke="#141a14">Sexually Transmitted</text><text x="314.09" y="278.69" fill="#141a14" stroke="#141a14">Disease</text><rect x="340.18" y="267.34" width="52.77" height="14.49" fill="#d3e5b7"/><text x="366.26" y="274.39" fill="#141a14" stroke="#141a14">Human immunodeficiency</text><text x="366.26" y="278.69" fill="#141a14" stroke="#141a14">virus I infection</text><rect x="392.35" y="267.34" width="52.77" height="14.49" fill="#dae7b9"/><text x="418.44" y="275.69" fill="#141a14" stroke="#141a14">Syphilis</text><rect x="444.52" y="267.34" width="52.77" height="14.49" fill="#dce8bb"/><text x="470.61" y="274.39" fill="#141a14" stroke="#141a14">Pneumocystis jiroveci</text><text x="470.61" y="278.69" fill="#141a14" stroke="#141a14">pneumonia</text><text class="yl" x="76.6" y="276.49">HIV-Disease_or_Syndrome</text><line x1="77.3" x2="79.3" y1="274.29" y2="274.29" stroke="#444" stroke-width="0.4"/><rect x="79.30" y="281.23" width="52.77" height="14.49" fill="#a0d2bb"/><text x="105.39" y="289.57" fill="#141a14" stroke="#141a14">CCR5 gene</text><rect x="131.47" y="281.23" width="52.77" height="14.49" fill="#c5e3b3"/><text x="157.56" y="289.57" fill="#141a14" stroke="#141a14">CXCR4 gene</text><rect x="183.65" y="281.23" width="52.77" height="14.49" fill="#dde9bc"/><text x="209.74" y="289.57" fill="#141a14" stroke="#141a14">APOBEC3G gene</text><rect x="235.82" y="281.23" width="52.77" height="14.49" fill="#dfeabd"/><text x="261.91" y="289.57" fill="#141a14" stroke="#141a14">RAB3L1 gene</text><rect x="288.00" y="281.23" width="52.77" height="14.49" fill="#deeabd"/><text x="314.09" y="289.57" fill="#141a14" stroke="#141a14">IL2 gene</text><rect x="340.18" y="281.23" width="52.77" height="14.49" fill="#deeabd"/><text x="366.26" y="289.57" fill="#141a14" stroke="#141a14">BST2 gene</text><rect x="392.35" y="281.23" width="52.77" height="14.49" fill="#dfeabd"/><text x="418.44" y="289.57" fill="#141a14" stroke="#141a14">SAMHD1 gene</text><rect x="444.52" y="281.23" width="52.77" height="14.49" fill="#e0ebbe"/><text x="470.61" y="289.57" fill="#141a14" stroke="#141a14">TRIM5 gene</text><text class="yl" x="76.6" y="290.38">HIV-Gene_or_Genome</text><line x1="77.3" x2="79.3" y1="288.18" y2="288.18" stroke="#444" stroke-width="0.4"/><rect x="79.30" y="295.12" width="52.77" height="14.49" fill="#4a85bb"/><text x="105.39" y="303.46" fill="#e6edf4" stroke="none">Mutation</text><rect x="131.47" y="295.12" width="52.77" height="14.49" fill="#78bdbb"/><text x="157.56" y="303.46" fill="#141a14" stroke="#141a14">DNA Replication</text><rect x="183.65" y="295.12" width="52.77" height="14.49" fill="#a8d6b8"/><text x="209.74" y="303.46" fill="#141a14" stroke="#141a14">Biological Evolution</text><rect x="235.82" y="295.12" width="52.77" height="14.49" fill="#b5dcb5"/><text x="261.91" y="303.46" fill="#141a14" stroke="#141a14">DNA Integration</text><rect x="288.00" y="295.12" width="52.77" height="14.49" fill="#c2e2b4"/><text x="314.09" y="303.46" fill="#141a14" stroke="#141a14">Genetic Polymorphism</text><rect x="340.18" y="295.12" width="52.77" height="14.49" fill="#c7e4b5"/><text x="366.26" y="303.46" fill="#141a14" stroke="#141a14">Gene Expression Process</text><rect x="392.35" y="295.12" width="52.77" height="14.49" fill="#cde4b6"/><text x="418.44" y="303.46" fill="#141a14" stroke="#141a14">Recombination, Genetic</text><rect x="444.52" y="295.12" width="52.77" height="14.49" fill="#d4e5b7"/><text x="470.61" y="303.46" fill="#141a14" stroke="#141a14">Trans-Activation, Genetic</text><text class="yl" x="76.6" y="304.26">HIV-Genetic_Function</text><line x1="77.3" x2="79.3" y1="302.06" y2="302.06" stroke="#444" stroke-width="0.4"/><rect x="79.30" y="309.01" width="52.77" height="14.49" fill="#b8dcb5"/><text x="105.39" y="317.35" fill="#141a14" stroke="#141a14">United States</text><rect x="131.47" y="309.01" width="52.77" height="14.49" fill="#c2e1b4"/><text x="157.56" y="317.35" fill="#141a14" stroke="#141a14">South Africa</text><rect x="183.65" y="309.01" width="52.77" height="14.49" fill="#d4e5b8"/><text x="209.74" y="317.35" fill="#141a14" stroke="#141a14">Africa South of the Sahara</text><rect x="235.82" y="309.01" width="52.77" height="14.49" fill="#dae7b9"/><text x="261.91" y="317.35" fill="#141a14" stroke="#141a14">China</text><rect x="288.00" y="309.01" width="52.77" height="14.49" fill="#dbe8ba"/><text x="314.09" y="317.35" fill="#141a14" stroke="#141a14">Uganda</text><rect x="340.18" y="309.01" width="52.77" height="14.49" fill="#dbe8ba"/><text x="366.26" y="317.35" fill="#141a14" stroke="#141a14">Kenya</text><rect x="392.35" y="309.01" width="52.77" height="14.49" fill="#dfeabd"/><text x="418.44" y="317.35" fill="#141a14" stroke="#141a14">Brazil</text><rect x="444.52" y="309.01" width="52.77" height="14.49" fill="#e0ebbe"/><text x="470.61" y="317.35" fill="#141a14" stroke="#141a14">Nigeria</text><text class="yl" x="76.6" y="318.15">HIV-Geographic_Area</text><line x1="77.3" x2="79.3" y1="315.95" y2="315.95" stroke="#444" stroke-width="0.4"/><rect x="79.30" y="322.90" width="52.77" height="14.49" fill="#78bbbd"/><text x="105.39" y="329.94" fill="#141a14" stroke="#141a14">Human immunodeficiency virus</text><text x="105.39" y="334.24" fill="#141a14" stroke="#141a14">1 glycoprotein 120 antigen</text><rect x="131.47" y="322.90" width="52.77" height="14.49" fill="#86c8bb"/><text x="157.56" y="331.24" fill="#141a14" stroke="#141a14">Blood group antigen P2</text><rect x="183.65" y="322.90" width="52.77" height="14.49" fill="#9ed2ba"/><text x="209.74" y="331.24" fill="#141a14" stroke="#141a14">Epitopes, T-Lymphocyte</text><rect x="235.82" y="322.90" width="52.77" height="14.49" fill="#a5d5bb"/><text x="261.91" y="329.94" fill="#141a14" stroke="#141a14">Human immunodeficiency</text><text x="261.91" y="334.24" fill="#141a14" stroke="#141a14">virus 1 antigen</text><rect x="288.00" y="322.90" width="52.77" height="14.49" fill="#a6d4bb"/><text x="314.09" y="331.24" fill="#141a14" stroke="#141a14">Single-Chain Antibodies</text><rect x="340.18" y="322.90" width="52.77" height="14.49" fill="#aad6ba"/><text x="366.26" y="331.24" fill="#141a14" stroke="#141a14">Antigens, Viral</text><rect x="392.35" y="322.90" width="52.77" height="14.49" fill="#b5dbbb"/><text x="418.44" y="331.24" fill="#141a14" stroke="#141a14">HIV 1 p24</text><rect x="444.52" y="322.90" width="52.77" height="14.49" fill="#bddfb8"/><text x="470.61" y="331.24" fill="#141a14" stroke="#141a14">HLA-A Antigens</text><text class="yl" x="76.6" y="332.04">HIV-Immunologic_Factor</text><line x1="77.3" x2="79.3" y1="329.84" y2="329.84" stroke="#444" stroke-width="0.4"/><rect x="79.30" y="336.79" width="52.77" height="14.49" fill="#dde9bb"/><text x="105.39" y="345.13" fill="#141a14" stroke="#141a14">hepatitis B virus</text><rect x="131.47" y="336.79" width="52.77" height="14.49" fill="#dee9bc"/><text x="157.56" y="345.13" fill="#141a14" stroke="#141a14">hepatitis C virus</text><rect x="183.65" y="336.79" width="52.77" height="14.49" fill="#dee9bc"/><text x="209.74" y="345.13" fill="#141a14" stroke="#141a14">Retroviridae</text><rect x="235.82" y="336.79" width="52.77" height="14.49" fill="#dfeabc"/><text x="261.91" y="345.13" fill="#141a14" stroke="#141a14">Simian immunodeficiency virus</text><rect x="288.00" y="336.79" width="52.77" height="14.49" fill="#dfeabc"/><text x="314.09" y="345.13" fill="#141a14" stroke="#141a14">human herpesvirus 8</text><rect x="340.18" y="336.79" width="52.77" height="14.49" fill="#dfeabc"/><text x="366.26" y="345.13" fill="#141a14" stroke="#141a14">human papillomavirus</text><rect x="392.35" y="336.79" width="52.77" height="14.49" fill="#e1ebbe"/><text x="418.44" y="345.13" fill="#141a14" stroke="#141a14">Epstein-Barr virus</text><rect x="444.52" y="336.79" width="52.77" height="14.49" fill="#e1ebbe"/><text x="470.61" y="345.13" fill="#141a14" stroke="#141a14">Cytomegalovirus</text><text class="yl" x="76.6" y="345.94">HIV-Virus</text><line x1="77.3" x2="79.3" y1="343.74" y2="343.74" stroke="#444" stroke-width="0.4"/><rect x="79.30" y="350.68" width="52.77" height="14.49" fill="#96cfb8"/><text x="105.39" y="359.02" fill="#141a14" stroke="#141a14">Cervix carcinoma...</text><rect x="131.47" y="350.68" width="52.77" height="14.49" fill="#d2e4b7"/><text x="157.56" y="357.73" fill="#141a14" stroke="#141a14">Squamous cell carcinoma of</text><text x="157.56" y="362.02" fill="#141a14" stroke="#141a14">the head and neck</text><rect x="183.65" y="350.68" width="52.77" height="14.49" fill="#d4e5b8"/><text x="209.74" y="359.02" fill="#141a14" stroke="#141a14">Neoplasms</text><rect x="235.82" y="350.68" width="52.77" height="14.49" fill="#d7e6b8"/><text x="261.91" y="359.02" fill="#141a14" stroke="#141a14">Primary malignant neoplasm</text><rect x="288.00" y="350.68" width="52.77" height="14.49" fill="#d7e6b8"/><text x="314.09" y="357.73" fill="#141a14" stroke="#141a14">Cervical intraepithelial</text><text x="314.09" y="362.02" fill="#141a14" stroke="#141a14">neoplasia grade 2</text><rect x="340.18" y="350.68" width="52.77" height="14.49" fill="#d7e6b8"/><text x="366.26" y="357.73" fill="#141a14" stroke="#141a14">High-Grade Squamous</text><text x="366.26" y="362.02" fill="#141a14" stroke="#141a14">Intraepithelial Lesions</text><rect x="392.35" y="350.68" width="52.77" height="14.49" fill="#dbe8ba"/><text x="418.44" y="357.73" fill="#141a14" stroke="#141a14">Squamous cell carcinoma of</text><text x="418.44" y="362.02" fill="#141a14" stroke="#141a14">oropharynx</text><rect x="444.52" y="350.68" width="52.77" height="14.49" fill="#dbe8ba"/><text x="470.61" y="359.02" fill="#141a14" stroke="#141a14">Squamous cell carcinoma</text><text class="yl" x="76.6" y="359.82">HPV-Neoplastic_Process</text><line x1="77.3" x2="79.3" y1="357.62" y2="357.62" stroke="#444" stroke-width="0.4"/><rect x="79.30" y="364.57" width="52.77" height="14.49" fill="#4a88be"/><text x="105.39" y="372.91" fill="#e6edf4" stroke="none">Immune response</text><rect x="131.47" y="364.57" width="52.77" height="14.49" fill="#c8e3b6"/><text x="157.56" y="372.91" fill="#141a14" stroke="#141a14">specific immunity</text><rect x="183.65" y="364.57" width="52.77" height="14.49" fill="#d4e5b8"/><text x="209.74" y="372.91" fill="#141a14" stroke="#141a14">Angiogenic Process</text><rect x="235.82" y="364.57" width="52.77" height="14.49" fill="#dae7b9"/><text x="261.91" y="372.91" fill="#141a14" stroke="#141a14">Antagonist muscle action</text><rect x="288.00" y="364.57" width="52.77" height="14.49" fill="#dbe8ba"/><text x="314.09" y="372.91" fill="#141a14" stroke="#141a14">Keratinization, function</text><rect x="340.18" y="364.57" width="52.77" height="14.49" fill="#dde9bb"/><text x="366.26" y="372.91" fill="#141a14" stroke="#141a14">Immune System Processes</text><rect x="392.35" y="364.57" width="52.77" height="14.49" fill="#dde9bb"/><text x="418.44" y="372.91" fill="#141a14" stroke="#141a14">Necrosis</text><rect x="444.52" y="364.57" width="52.77" height="14.49" fill="#dfeabc"/><text x="470.61" y="372.91" fill="#141a14" stroke="#141a14">Autocrine Systems</text><text class="yl" x="76.6" y="373.71">HPV-Organ_or_Tissue_Function</text><line x1="77.3" x2="79.3" y1="371.51" y2="371.51" stroke="#444" stroke-width="0.4"/><rect x="79.30" y="378.46" width="52.77" height="14.49" fill="#30529f"/><text x="105.39" y="386.81" fill="#e6edf4" stroke="none">Lesion of cervix</text><rect x="131.47" y="378.46" width="52.77" height="14.49" fill="#9ad0b8"/><text x="157.56" y="386.81" fill="#141a14" stroke="#141a14">Dysplasia</text><rect x="183.65" y="378.46" width="52.77" height="14.49" fill="#c5e3b5"/><text x="209.74" y="386.81" fill="#141a14" stroke="#141a14">Tumorigenicity</text><rect x="235.82" y="378.46" width="52.77" height="14.49" fill="#cde4b6"/><text x="261.91" y="386.81" fill="#141a14" stroke="#141a14">Hyperplasia</text><rect x="288.00" y="378.46" width="52.77" height="14.49" fill="#d3e5b7"/><text x="314.09" y="386.81" fill="#141a14" stroke="#141a14">Infertility</text><rect x="340.18" y="378.46" width="52.77" height="14.49" fill="#d7e6b8"/><text x="366.26" y="386.81" fill="#141a14" stroke="#141a14">Spontaneous abortion</text><rect x="392.35" y="378.46" width="52.77" height="14.49" fill="#dbe8ba"/><text x="418.44" y="385.51" fill="#141a14" stroke="#141a14">Decreased Immunologic</text><text x="418.44" y="389.81" fill="#141a14" stroke="#141a14">Activity [PE]</text><rect x="444.52" y="378.46" width="52.77" height="14.49" fill="#dbe8ba"/><text x="470.61" y="386.81" fill="#141a14" stroke="#141a14">Chronic inflammation</text><text class="yl" x="76.6" y="387.61">HPV-Pathologic_Function</text><line x1="77.3" x2="79.3" y1="385.41" y2="385.41" stroke="#444" stroke-width="0.4"/><rect x="79.30" y="392.35" width="52.77" height="14.49" fill="#8fcdb9"/><text x="105.39" y="400.69" fill="#141a14" stroke="#141a14">Leukemia Virus, Bovine</text><rect x="131.47" y="392.35" width="52.77" height="14.49" fill="#d7e6b8"/><text x="157.56" y="400.69" fill="#141a14" stroke="#141a14">HIV</text><rect x="183.65" y="392.35" width="52.77" height="14.49" fill="#cde4b6"/><text x="209.74" y="400.69" fill="#141a14" stroke="#141a14">Retroviridae</text><rect x="235.82" y="392.35" width="52.77" height="14.49" fill="#d7e6b8"/><text x="261.91" y="400.69" fill="#141a14" stroke="#141a14">HIV-1</text><rect x="288.00" y="392.35" width="52.77" height="14.49" fill="#d7e6b8"/><text x="314.09" y="400.69" fill="#141a14" stroke="#141a14">Epstein-Barr virus</text><rect x="340.18" y="392.35" width="52.77" height="14.49" fill="#dbe8ba"/><text x="366.26" y="399.40" fill="#141a14" stroke="#141a14">Human immunodeficiency</text><text x="366.26" y="403.69" fill="#141a14" stroke="#141a14">virus-2</text><rect x="392.35" y="392.35" width="52.77" height="14.49" fill="#dfeabc"/><text x="418.44" y="400.69" fill="#141a14" stroke="#141a14">hepatitis B virus</text><rect x="444.52" y="392.35" width="52.77" height="14.49" fill="#dfeabc"/><text x="470.61" y="400.69" fill="#141a14" stroke="#141a14">hepatitis C virus</text><text class="yl" x="76.6" y="401.50">HTLV-Virus</text><line x1="77.3" x2="79.3" y1="399.30" y2="399.30" stroke="#444" stroke-width="0.4"/><rect x="79.30" y="406.24" width="52.77" height="14.49" fill="#2c3f92"/><text x="105.39" y="414.58" fill="#e6edf4" stroke="none">DNA Replication</text><rect x="131.47" y="406.24" width="52.77" height="14.49" fill="#8ecbb8"/><text x="157.56" y="414.58" fill="#141a14" stroke="#141a14">Gene Expression Process</text><rect x="183.65" y="406.24" width="52.77" height="14.49" fill="#c0e0b5"/><text x="209.74" y="414.58" fill="#141a14" stroke="#141a14">Mutation</text><rect x="235.82" y="406.24" width="52.77" height="14.49" fill="#cde4b6"/><text x="261.91" y="414.58" fill="#141a14" stroke="#141a14">protein expression</text><rect x="288.00" y="406.24" width="52.77" height="14.49" fill="#cde4b6"/><text x="314.09" y="414.58" fill="#141a14" stroke="#141a14">Gene Expression</text><rect x="340.18" y="406.24" width="52.77" height="14.49" fill="#d1e5b7"/><text x="366.26" y="414.58" fill="#141a14" stroke="#141a14">Trans-Activation, Genetic</text><rect x="392.35" y="406.24" width="52.77" height="14.49" fill="#d3e5b7"/><text x="418.44" y="414.58" fill="#141a14" stroke="#141a14">Transcriptional Activation</text><rect x="444.52" y="406.24" width="52.77" height="14.49" fill="#d7e6b8"/><text x="470.61" y="414.58" fill="#141a14" stroke="#141a14">DNA Sequence Rearrangement</text><text class="yl" x="76.6" y="415.38">KSHV-Genetic_Function</text><line x1="77.3" x2="79.3" y1="413.19" y2="413.19" stroke="#444" stroke-width="0.4"/><rect x="79.30" y="420.13" width="52.77" height="14.49" fill="#4b8cbf"/><text x="105.39" y="428.47" fill="#e6edf4" stroke="none">Kaposi Sarcoma</text><rect x="131.47" y="420.13" width="52.77" height="14.49" fill="#a0d3b8"/><text x="157.56" y="428.47" fill="#141a14" stroke="#141a14">Primary Effusion Lymphoma</text><rect x="183.65" y="420.13" width="52.77" height="14.49" fill="#b5dab7"/><text x="209.74" y="428.47" fill="#141a14" stroke="#141a14">Nasopharyngeal carcinoma</text><rect x="235.82" y="420.13" width="52.77" height="14.49" fill="#cde4b6"/><text x="261.91" y="428.47" fill="#141a14" stroke="#141a14">Lymphoma</text><rect x="288.00" y="420.13" width="52.77" height="14.49" fill="#d1e5b7"/><text x="314.09" y="428.47" fill="#141a14" stroke="#141a14">Neoplasms</text><rect x="340.18" y="420.13" width="52.77" height="14.49" fill="#d3e5b7"/><text x="366.26" y="427.18" fill="#141a14" stroke="#141a14">Multi-centric Castleman's</text><text x="366.26" y="431.47" fill="#141a14" stroke="#141a14">Disease</text><rect x="392.35" y="420.13" width="52.77" height="14.49" fill="#d7e6b8"/><text x="418.44" y="427.18" fill="#141a14" stroke="#141a14">Post-transplant</text><text x="418.44" y="431.47" fill="#141a14" stroke="#141a14">lymphoproliferative disorder</text><rect x="444.52" y="420.13" width="52.77" height="14.49" fill="#d7e6b8"/><text x="470.61" y="428.47" fill="#141a14" stroke="#141a14">Lymphoma, Non-Hodgkin</text><text class="yl" x="76.6" y="429.27">KSHV-Neoplastic_Process</text><line x1="77.3" x2="79.3" y1="427.07" y2="427.07" stroke="#444" stroke-width="0.4"/><rect x="79.30" y="434.02" width="52.77" height="14.49" fill="#80c3bb"/><text x="105.39" y="442.36" fill="#141a14" stroke="#141a14">Epstein-Barr virus</text><rect x="131.47" y="434.02" width="52.77" height="14.49" fill="#a5d5b8"/><text x="157.56" y="442.36" fill="#141a14" stroke="#141a14">Cytomegalovirus</text><rect x="183.65" y="434.02" width="52.77" height="14.49" fill="#b8dcb6"/><text x="209.74" y="442.36" fill="#141a14" stroke="#141a14">herpesvirus 3, human</text><rect x="235.82" y="434.02" width="52.77" height="14.49" fill="#c5e3b5"/><text x="261.91" y="442.36" fill="#141a14" stroke="#141a14">herpesvirus 2, human</text><rect x="288.00" y="434.02" width="52.77" height="14.49" fill="#c7e4b5"/><text x="314.09" y="442.36" fill="#141a14" stroke="#141a14">herpesvirus 1, human</text><rect x="340.18" y="434.02" width="52.77" height="14.49" fill="#cde4b6"/><text x="366.26" y="442.36" fill="#141a14" stroke="#141a14">herpesvirus 5, human</text><rect x="392.35" y="434.02" width="52.77" height="14.49" fill="#d1e5b7"/><text x="418.44" y="442.36" fill="#141a14" stroke="#141a14">Simplexvirus</text><rect x="444.52" y="434.02" width="52.77" height="14.49" fill="#d3e5b7"/><text x="470.61" y="442.36" fill="#141a14" stroke="#141a14">herpesvirus 6, human</text><text class="yl" x="76.6" y="443.16">KSHV-Virus</text><line x1="77.3" x2="79.3" y1="440.96" y2="440.96" stroke="#444" stroke-width="0.4"/><rect x="79.30" y="447.91" width="52.77" height="14.49" fill="#4c80bb"/><text x="105.39" y="456.25" fill="#e6edf4" stroke="none">Polyomavirus</text><rect x="131.47" y="447.91" width="52.77" height="14.49" fill="#d3e5b7"/><text x="157.56" y="456.25" fill="#141a14" stroke="#141a14">JC Virus</text><rect x="183.65" y="447.91" width="52.77" height="14.49" fill="#d3e5b7"/><text x="209.74" y="456.25" fill="#141a14" stroke="#141a14">human papillomavirus</text><rect x="235.82" y="447.91" width="52.77" height="14.49" fill="#d7e6b8"/><text x="261.91" y="456.25" fill="#141a14" stroke="#141a14">Simian virus 40</text><rect x="288.00" y="447.91" width="52.77" height="14.49" fill="#d7e6b8"/><text x="314.09" y="456.25" fill="#141a14" stroke="#141a14">BK Virus</text><rect x="340.18" y="447.91" width="52.77" height="14.49" fill="#dbe8ba"/><text x="366.26" y="456.25" fill="#141a14" stroke="#141a14">Epstein-Barr virus</text><rect x="392.35" y="447.91" width="52.77" height="14.49" fill="#dfeabc"/><text x="418.44" y="456.25" fill="#141a14" stroke="#141a14">Oncogenic Viruses</text><rect x="444.52" y="447.91" width="52.77" height="14.49" fill="#dfeabc"/><text x="470.61" y="456.25" fill="#141a14" stroke="#141a14">Molluscum contagiosum virus</text><text class="yl" x="76.6" y="457.06">MCV-Virus</text><line x1="77.3" x2="79.3" y1="454.86" y2="454.86" stroke="#444" stroke-width="0.4"/><line x1="105.39" x2="105.39" y1="461.80" y2="463.70" stroke="#333" stroke-width="0.5"/><text class="xt" x="105.39" y="466.80">t1</text><line x1="157.56" x2="157.56" y1="461.80" y2="463.70" stroke="#333" stroke-width="0.5"/><text class="xt" x="157.56" y="466.80">t2</text><line x1="209.74" x2="209.74" y1="461.80" y2="463.70" stroke="#333" stroke-width="0.5"/><text class="xt" x="209.74" y="466.80">t3</text><line x1="261.91" x2="261.91" y1="461.80" y2="463.70" stroke="#333" stroke-width="0.5"/><text class="xt" x="261.91" y="466.80">t4</text><line x1="314.09" x2="314.09" y1="461.80" y2="463.70" stroke="#333" stroke-width="0.5"/><text class="xt" x="314.09" y="466.80">t5</text><line x1="366.26" x2="366.26" y1="461.80" y2="463.70" stroke="#333" stroke-width="0.5"/><text class="xt" x="366.26" y="466.80">t6</text><line x1="418.44" x2="418.44" y1="461.80" y2="463.70" stroke="#333" stroke-width="0.5"/><text class="xt" x="418.44" y="466.80">t7</text><line x1="470.61" x2="470.61" y1="461.80" y2="463.70" stroke="#333" stroke-width="0.5"/><text class="xt" x="470.61" y="466.80">t8</text><defs><linearGradient id="cbg" x1="0" y1="0" x2="0" y2="1"><stop offset="0" stop-color="#243080"/><stop offset="0.15" stop-color="#2a4a9a"/><stop offset="0.33" stop-color="#3a80b8"/><stop offset="0.52" stop-color="#60b0c0"/><stop offset="0.7" stop-color="#a0d8b8"/><stop offset="0.85" stop-color="#d8edb8"/><stop offset="1" stop-color="#eef6c8"/></linearGradient></defs><rect x="499.2" y="189.2" width="5.2" height="69.1" fill="url(#cbg)"/><line x1="504.4" x2="505.4" y1="199.00" y2="199.00" stroke="#666" stroke-width="0.3"/><text class="cbt" x="506.2" y="200.10">0.5</text><line x1="504.4" x2="505.4" y1="211.42" y2="211.42" stroke="#666" stroke-width="0.3"/><text class="cbt" x="506.2" y="212.52">0.4</text><line x1="504.4" x2="505.4" y1="223.84" y2="223.84" stroke="#666" stroke-width="0.3"/><text class="cbt" x="506.2" y="224.94">0.3</text><line x1="504.4" x2="505.4" y1="236.26" y2="236.26" stroke="#666" stroke-width="0.3"/><text class="cbt" x="506.2" y="237.36">0.2</text><line x1="504.4" x2="505.4" y1="248.68" y2="248.68" stroke="#666" stroke-width="0.3"/><text class="cbt" x="506.2" y="249.78">0.1</text><text class="tfidf" x="497" y="187.6">TF-IDF</text></g>
</svg>
</body></html>
